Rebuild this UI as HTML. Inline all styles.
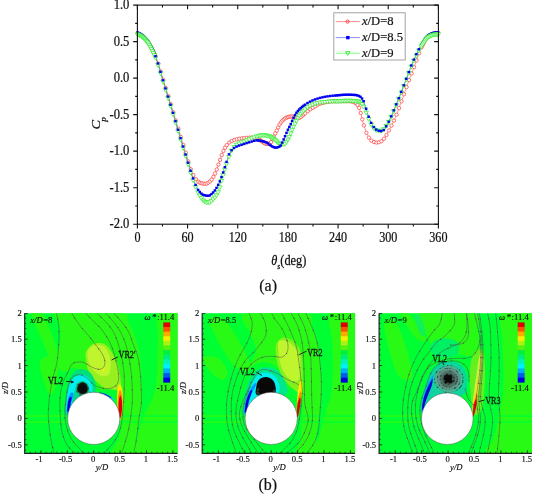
<!DOCTYPE html>
<html><head><meta charset="utf-8"><style>
html,body{margin:0;padding:0;background:#fff;}
svg{display:block;}
</style></head><body>
<div style="will-change:transform;width:534px;height:494px;filter:blur(0.3px);">
<svg width="534" height="494" viewBox="0 0 534 494">
<defs>
<radialGradient id="vg"><stop offset="0" stop-color="#101814"/><stop offset="0.3" stop-color="#3a544c"/><stop offset="0.65" stop-color="#668c80" stop-opacity="0.95"/><stop offset="0.9" stop-color="#6aa898" stop-opacity="0.6"/><stop offset="1" stop-color="#40b090" stop-opacity="0"/></radialGradient>
<radialGradient id="vb"><stop offset="0" stop-color="#000"/><stop offset="0.5" stop-color="#151515"/><stop offset="0.75" stop-color="#3a4a40" stop-opacity="0.8"/><stop offset="1" stop-color="#4a8a70" stop-opacity="0"/></radialGradient>
<radialGradient id="vk"><stop offset="0" stop-color="#000"/><stop offset="0.6" stop-color="#111"/><stop offset="1" stop-color="#222" stop-opacity="0.3"/></radialGradient>
</defs>
<rect width="534" height="494" fill="#fff"/>
<g id="curves">
<path d="M138.65 33.8 L139.66 34.31 L140.66 34.91 L141.66 35.57 L142.67 36.3 L143.67 37.14 L144.67 38.1 L145.68 39.17 L146.68 40.33 L147.68 41.59 L148.69 42.99 L149.69 44.67 L150.69 46.52 L151.7 48.43 L152.7 50.3 L153.7 52.2 L154.71 54.23 L155.71 56.51 L158.22 63.62 L160.73 71.5 L163.24 79.77 L165.74 87.92 L168.25 96.07 L170.76 104.22 L173.27 112.37 L175.78 120.53 L178.29 128.68 L180.79 136.86 L183.3 144.96 L185.81 152.76 L188.32 161.54 L190.83 169.33 L193.34 175.13 L195.84 179.2 L198.35 181.7 L200.02 182.84 L201.7 183.35 L203.37 183.64 L205.04 183.79 L206.71 183.57 L208.39 182.68 L210.06 181.45 L211.73 179.56 L213.4 176.8 L215.07 173.55 L216.75 169.48 L218.42 164.59 L220.09 159.83 L221.76 154.99 L223.44 150.9 L225.11 147.66 L226.78 145.14 L229.29 142.56 L231.8 140.95 L234.31 139.94 L236.81 139.25 L239.32 138.74 L241.83 138.34 L244.34 138.06 L246.85 137.82 L249.36 137.65 L251.86 137.62 L254.37 137.97 L256.88 138.61 L258.3 139.14 L259.72 139.96 L261.14 140.9 L262.57 141.8 L263.99 142.89 L265.41 143.7 L266.83 143.8 L268.25 143.8 L269.67 143.78 L271.09 142.09 L272.52 139.07 L273.94 136.31 L275.36 133.42 L276.78 130.51 L278.2 127.39 L279.62 124.5 L281.04 122.38 L282.47 120.64 L283.89 119.22 L285.31 118.24 L286.73 117.6 L288.15 117.03 L289.57 116.62 L290.99 116.41 L292.41 116.59 L293.84 117.19 L295.26 117.63 L296.68 117.85 L298.1 117.98 L299.52 117.83 L300.94 116.93 L302.36 115.65 L303.79 114.46 L305.21 113.33 L307.72 111.22 L310.22 109.35 L312.73 107.84 L315.24 106.34 L317.75 104.66 L320.26 103.69 L322.77 102.91 L325.27 102.31 L327.78 101.9 L330.29 101.6 L332.8 101.33 L335.31 101.16 L336.9 101.1 L338.48 101.1 L340.07 101.1 L341.66 101.1 L343.25 101.1 L344.84 101.1 L346.43 101.1 L348.02 101.1 L349.6 101.12 L351.19 101.33 L352.78 101.74 L354.37 102.31 L355.96 103.12 L357.55 104.98 L359.14 107.88 L360.73 113.04 L362.31 119.36 L363.9 125.41 L366.41 132.78 L368.92 137.61 L371.43 140.65 L373.94 142.02 L376.44 142.6 L378.95 142.19 L381.46 141.22 L383.97 138.7 L386.48 135.03 L388.99 130.47 L391.49 125.65 L394 120.59 L396.51 114.71 L399.02 108.15 L401.53 101.28 L404.04 94.33 L406.54 87.11 L409.05 80.09 L411.56 73.54 L414.07 67.13 L416.58 60.41 L419.09 53.18 L421.59 47.27 L422.6 45.21 L423.6 43.2 L424.6 41.31 L425.61 39.59 L426.61 38.1 L427.61 36.9 L428.62 36.05 L429.62 35.44 L430.62 34.88 L431.63 34.39 L432.63 33.98 L433.63 33.67 L434.64 33.46 L435.64 33.38 L436.64 33.34 L437.65 33.31" fill="none" stroke="#ff5050" stroke-width="0.6"/>
<circle cx="138.65" cy="33.8" r="1.7" fill="#fff" stroke="#ff3a3a" stroke-width="0.7"/>
<circle cx="139.66" cy="34.31" r="1.7" fill="#fff" stroke="#ff3a3a" stroke-width="0.7"/>
<circle cx="140.66" cy="34.91" r="1.7" fill="#fff" stroke="#ff3a3a" stroke-width="0.7"/>
<circle cx="141.66" cy="35.57" r="1.7" fill="#fff" stroke="#ff3a3a" stroke-width="0.7"/>
<circle cx="142.67" cy="36.3" r="1.7" fill="#fff" stroke="#ff3a3a" stroke-width="0.7"/>
<circle cx="143.67" cy="37.14" r="1.7" fill="#fff" stroke="#ff3a3a" stroke-width="0.7"/>
<circle cx="144.67" cy="38.1" r="1.7" fill="#fff" stroke="#ff3a3a" stroke-width="0.7"/>
<circle cx="145.68" cy="39.17" r="1.7" fill="#fff" stroke="#ff3a3a" stroke-width="0.7"/>
<circle cx="146.68" cy="40.33" r="1.7" fill="#fff" stroke="#ff3a3a" stroke-width="0.7"/>
<circle cx="147.68" cy="41.59" r="1.7" fill="#fff" stroke="#ff3a3a" stroke-width="0.7"/>
<circle cx="148.69" cy="42.99" r="1.7" fill="#fff" stroke="#ff3a3a" stroke-width="0.7"/>
<circle cx="149.69" cy="44.67" r="1.7" fill="#fff" stroke="#ff3a3a" stroke-width="0.7"/>
<circle cx="150.69" cy="46.52" r="1.7" fill="#fff" stroke="#ff3a3a" stroke-width="0.7"/>
<circle cx="151.7" cy="48.43" r="1.7" fill="#fff" stroke="#ff3a3a" stroke-width="0.7"/>
<circle cx="152.7" cy="50.3" r="1.7" fill="#fff" stroke="#ff3a3a" stroke-width="0.7"/>
<circle cx="153.7" cy="52.2" r="1.7" fill="#fff" stroke="#ff3a3a" stroke-width="0.7"/>
<circle cx="154.71" cy="54.23" r="1.7" fill="#fff" stroke="#ff3a3a" stroke-width="0.7"/>
<circle cx="155.71" cy="56.51" r="1.7" fill="#fff" stroke="#ff3a3a" stroke-width="0.7"/>
<circle cx="158.22" cy="63.62" r="1.7" fill="#fff" stroke="#ff3a3a" stroke-width="0.7"/>
<circle cx="160.73" cy="71.5" r="1.7" fill="#fff" stroke="#ff3a3a" stroke-width="0.7"/>
<circle cx="163.24" cy="79.77" r="1.7" fill="#fff" stroke="#ff3a3a" stroke-width="0.7"/>
<circle cx="165.74" cy="87.92" r="1.7" fill="#fff" stroke="#ff3a3a" stroke-width="0.7"/>
<circle cx="168.25" cy="96.07" r="1.7" fill="#fff" stroke="#ff3a3a" stroke-width="0.7"/>
<circle cx="170.76" cy="104.22" r="1.7" fill="#fff" stroke="#ff3a3a" stroke-width="0.7"/>
<circle cx="173.27" cy="112.37" r="1.7" fill="#fff" stroke="#ff3a3a" stroke-width="0.7"/>
<circle cx="175.78" cy="120.53" r="1.7" fill="#fff" stroke="#ff3a3a" stroke-width="0.7"/>
<circle cx="178.29" cy="128.68" r="1.7" fill="#fff" stroke="#ff3a3a" stroke-width="0.7"/>
<circle cx="180.79" cy="136.86" r="1.7" fill="#fff" stroke="#ff3a3a" stroke-width="0.7"/>
<circle cx="183.3" cy="144.96" r="1.7" fill="#fff" stroke="#ff3a3a" stroke-width="0.7"/>
<circle cx="185.81" cy="152.76" r="1.7" fill="#fff" stroke="#ff3a3a" stroke-width="0.7"/>
<circle cx="188.32" cy="161.54" r="1.7" fill="#fff" stroke="#ff3a3a" stroke-width="0.7"/>
<circle cx="190.83" cy="169.33" r="1.7" fill="#fff" stroke="#ff3a3a" stroke-width="0.7"/>
<circle cx="193.34" cy="175.13" r="1.7" fill="#fff" stroke="#ff3a3a" stroke-width="0.7"/>
<circle cx="195.84" cy="179.2" r="1.7" fill="#fff" stroke="#ff3a3a" stroke-width="0.7"/>
<circle cx="198.35" cy="181.7" r="1.7" fill="#fff" stroke="#ff3a3a" stroke-width="0.7"/>
<circle cx="200.02" cy="182.84" r="1.7" fill="#fff" stroke="#ff3a3a" stroke-width="0.7"/>
<circle cx="201.7" cy="183.35" r="1.7" fill="#fff" stroke="#ff3a3a" stroke-width="0.7"/>
<circle cx="203.37" cy="183.64" r="1.7" fill="#fff" stroke="#ff3a3a" stroke-width="0.7"/>
<circle cx="205.04" cy="183.79" r="1.7" fill="#fff" stroke="#ff3a3a" stroke-width="0.7"/>
<circle cx="206.71" cy="183.57" r="1.7" fill="#fff" stroke="#ff3a3a" stroke-width="0.7"/>
<circle cx="208.39" cy="182.68" r="1.7" fill="#fff" stroke="#ff3a3a" stroke-width="0.7"/>
<circle cx="210.06" cy="181.45" r="1.7" fill="#fff" stroke="#ff3a3a" stroke-width="0.7"/>
<circle cx="211.73" cy="179.56" r="1.7" fill="#fff" stroke="#ff3a3a" stroke-width="0.7"/>
<circle cx="213.4" cy="176.8" r="1.7" fill="#fff" stroke="#ff3a3a" stroke-width="0.7"/>
<circle cx="215.07" cy="173.55" r="1.7" fill="#fff" stroke="#ff3a3a" stroke-width="0.7"/>
<circle cx="216.75" cy="169.48" r="1.7" fill="#fff" stroke="#ff3a3a" stroke-width="0.7"/>
<circle cx="218.42" cy="164.59" r="1.7" fill="#fff" stroke="#ff3a3a" stroke-width="0.7"/>
<circle cx="220.09" cy="159.83" r="1.7" fill="#fff" stroke="#ff3a3a" stroke-width="0.7"/>
<circle cx="221.76" cy="154.99" r="1.7" fill="#fff" stroke="#ff3a3a" stroke-width="0.7"/>
<circle cx="223.44" cy="150.9" r="1.7" fill="#fff" stroke="#ff3a3a" stroke-width="0.7"/>
<circle cx="225.11" cy="147.66" r="1.7" fill="#fff" stroke="#ff3a3a" stroke-width="0.7"/>
<circle cx="226.78" cy="145.14" r="1.7" fill="#fff" stroke="#ff3a3a" stroke-width="0.7"/>
<circle cx="229.29" cy="142.56" r="1.7" fill="#fff" stroke="#ff3a3a" stroke-width="0.7"/>
<circle cx="231.8" cy="140.95" r="1.7" fill="#fff" stroke="#ff3a3a" stroke-width="0.7"/>
<circle cx="234.31" cy="139.94" r="1.7" fill="#fff" stroke="#ff3a3a" stroke-width="0.7"/>
<circle cx="236.81" cy="139.25" r="1.7" fill="#fff" stroke="#ff3a3a" stroke-width="0.7"/>
<circle cx="239.32" cy="138.74" r="1.7" fill="#fff" stroke="#ff3a3a" stroke-width="0.7"/>
<circle cx="241.83" cy="138.34" r="1.7" fill="#fff" stroke="#ff3a3a" stroke-width="0.7"/>
<circle cx="244.34" cy="138.06" r="1.7" fill="#fff" stroke="#ff3a3a" stroke-width="0.7"/>
<circle cx="246.85" cy="137.82" r="1.7" fill="#fff" stroke="#ff3a3a" stroke-width="0.7"/>
<circle cx="249.36" cy="137.65" r="1.7" fill="#fff" stroke="#ff3a3a" stroke-width="0.7"/>
<circle cx="251.86" cy="137.62" r="1.7" fill="#fff" stroke="#ff3a3a" stroke-width="0.7"/>
<circle cx="254.37" cy="137.97" r="1.7" fill="#fff" stroke="#ff3a3a" stroke-width="0.7"/>
<circle cx="256.88" cy="138.61" r="1.7" fill="#fff" stroke="#ff3a3a" stroke-width="0.7"/>
<circle cx="258.3" cy="139.14" r="1.7" fill="#fff" stroke="#ff3a3a" stroke-width="0.7"/>
<circle cx="259.72" cy="139.96" r="1.7" fill="#fff" stroke="#ff3a3a" stroke-width="0.7"/>
<circle cx="261.14" cy="140.9" r="1.7" fill="#fff" stroke="#ff3a3a" stroke-width="0.7"/>
<circle cx="262.57" cy="141.8" r="1.7" fill="#fff" stroke="#ff3a3a" stroke-width="0.7"/>
<circle cx="263.99" cy="142.89" r="1.7" fill="#fff" stroke="#ff3a3a" stroke-width="0.7"/>
<circle cx="265.41" cy="143.7" r="1.7" fill="#fff" stroke="#ff3a3a" stroke-width="0.7"/>
<circle cx="266.83" cy="143.8" r="1.7" fill="#fff" stroke="#ff3a3a" stroke-width="0.7"/>
<circle cx="268.25" cy="143.8" r="1.7" fill="#fff" stroke="#ff3a3a" stroke-width="0.7"/>
<circle cx="269.67" cy="143.78" r="1.7" fill="#fff" stroke="#ff3a3a" stroke-width="0.7"/>
<circle cx="271.09" cy="142.09" r="1.7" fill="#fff" stroke="#ff3a3a" stroke-width="0.7"/>
<circle cx="272.52" cy="139.07" r="1.7" fill="#fff" stroke="#ff3a3a" stroke-width="0.7"/>
<circle cx="273.94" cy="136.31" r="1.7" fill="#fff" stroke="#ff3a3a" stroke-width="0.7"/>
<circle cx="275.36" cy="133.42" r="1.7" fill="#fff" stroke="#ff3a3a" stroke-width="0.7"/>
<circle cx="276.78" cy="130.51" r="1.7" fill="#fff" stroke="#ff3a3a" stroke-width="0.7"/>
<circle cx="278.2" cy="127.39" r="1.7" fill="#fff" stroke="#ff3a3a" stroke-width="0.7"/>
<circle cx="279.62" cy="124.5" r="1.7" fill="#fff" stroke="#ff3a3a" stroke-width="0.7"/>
<circle cx="281.04" cy="122.38" r="1.7" fill="#fff" stroke="#ff3a3a" stroke-width="0.7"/>
<circle cx="282.47" cy="120.64" r="1.7" fill="#fff" stroke="#ff3a3a" stroke-width="0.7"/>
<circle cx="283.89" cy="119.22" r="1.7" fill="#fff" stroke="#ff3a3a" stroke-width="0.7"/>
<circle cx="285.31" cy="118.24" r="1.7" fill="#fff" stroke="#ff3a3a" stroke-width="0.7"/>
<circle cx="286.73" cy="117.6" r="1.7" fill="#fff" stroke="#ff3a3a" stroke-width="0.7"/>
<circle cx="288.15" cy="117.03" r="1.7" fill="#fff" stroke="#ff3a3a" stroke-width="0.7"/>
<circle cx="289.57" cy="116.62" r="1.7" fill="#fff" stroke="#ff3a3a" stroke-width="0.7"/>
<circle cx="290.99" cy="116.41" r="1.7" fill="#fff" stroke="#ff3a3a" stroke-width="0.7"/>
<circle cx="292.41" cy="116.59" r="1.7" fill="#fff" stroke="#ff3a3a" stroke-width="0.7"/>
<circle cx="293.84" cy="117.19" r="1.7" fill="#fff" stroke="#ff3a3a" stroke-width="0.7"/>
<circle cx="295.26" cy="117.63" r="1.7" fill="#fff" stroke="#ff3a3a" stroke-width="0.7"/>
<circle cx="296.68" cy="117.85" r="1.7" fill="#fff" stroke="#ff3a3a" stroke-width="0.7"/>
<circle cx="298.1" cy="117.98" r="1.7" fill="#fff" stroke="#ff3a3a" stroke-width="0.7"/>
<circle cx="299.52" cy="117.83" r="1.7" fill="#fff" stroke="#ff3a3a" stroke-width="0.7"/>
<circle cx="300.94" cy="116.93" r="1.7" fill="#fff" stroke="#ff3a3a" stroke-width="0.7"/>
<circle cx="302.36" cy="115.65" r="1.7" fill="#fff" stroke="#ff3a3a" stroke-width="0.7"/>
<circle cx="303.79" cy="114.46" r="1.7" fill="#fff" stroke="#ff3a3a" stroke-width="0.7"/>
<circle cx="305.21" cy="113.33" r="1.7" fill="#fff" stroke="#ff3a3a" stroke-width="0.7"/>
<circle cx="307.72" cy="111.22" r="1.7" fill="#fff" stroke="#ff3a3a" stroke-width="0.7"/>
<circle cx="310.22" cy="109.35" r="1.7" fill="#fff" stroke="#ff3a3a" stroke-width="0.7"/>
<circle cx="312.73" cy="107.84" r="1.7" fill="#fff" stroke="#ff3a3a" stroke-width="0.7"/>
<circle cx="315.24" cy="106.34" r="1.7" fill="#fff" stroke="#ff3a3a" stroke-width="0.7"/>
<circle cx="317.75" cy="104.66" r="1.7" fill="#fff" stroke="#ff3a3a" stroke-width="0.7"/>
<circle cx="320.26" cy="103.69" r="1.7" fill="#fff" stroke="#ff3a3a" stroke-width="0.7"/>
<circle cx="322.77" cy="102.91" r="1.7" fill="#fff" stroke="#ff3a3a" stroke-width="0.7"/>
<circle cx="325.27" cy="102.31" r="1.7" fill="#fff" stroke="#ff3a3a" stroke-width="0.7"/>
<circle cx="327.78" cy="101.9" r="1.7" fill="#fff" stroke="#ff3a3a" stroke-width="0.7"/>
<circle cx="330.29" cy="101.6" r="1.7" fill="#fff" stroke="#ff3a3a" stroke-width="0.7"/>
<circle cx="332.8" cy="101.33" r="1.7" fill="#fff" stroke="#ff3a3a" stroke-width="0.7"/>
<circle cx="335.31" cy="101.16" r="1.7" fill="#fff" stroke="#ff3a3a" stroke-width="0.7"/>
<circle cx="336.9" cy="101.1" r="1.7" fill="#fff" stroke="#ff3a3a" stroke-width="0.7"/>
<circle cx="338.48" cy="101.1" r="1.7" fill="#fff" stroke="#ff3a3a" stroke-width="0.7"/>
<circle cx="340.07" cy="101.1" r="1.7" fill="#fff" stroke="#ff3a3a" stroke-width="0.7"/>
<circle cx="341.66" cy="101.1" r="1.7" fill="#fff" stroke="#ff3a3a" stroke-width="0.7"/>
<circle cx="343.25" cy="101.1" r="1.7" fill="#fff" stroke="#ff3a3a" stroke-width="0.7"/>
<circle cx="344.84" cy="101.1" r="1.7" fill="#fff" stroke="#ff3a3a" stroke-width="0.7"/>
<circle cx="346.43" cy="101.1" r="1.7" fill="#fff" stroke="#ff3a3a" stroke-width="0.7"/>
<circle cx="348.02" cy="101.1" r="1.7" fill="#fff" stroke="#ff3a3a" stroke-width="0.7"/>
<circle cx="349.6" cy="101.12" r="1.7" fill="#fff" stroke="#ff3a3a" stroke-width="0.7"/>
<circle cx="351.19" cy="101.33" r="1.7" fill="#fff" stroke="#ff3a3a" stroke-width="0.7"/>
<circle cx="352.78" cy="101.74" r="1.7" fill="#fff" stroke="#ff3a3a" stroke-width="0.7"/>
<circle cx="354.37" cy="102.31" r="1.7" fill="#fff" stroke="#ff3a3a" stroke-width="0.7"/>
<circle cx="355.96" cy="103.12" r="1.7" fill="#fff" stroke="#ff3a3a" stroke-width="0.7"/>
<circle cx="357.55" cy="104.98" r="1.7" fill="#fff" stroke="#ff3a3a" stroke-width="0.7"/>
<circle cx="359.14" cy="107.88" r="1.7" fill="#fff" stroke="#ff3a3a" stroke-width="0.7"/>
<circle cx="360.73" cy="113.04" r="1.7" fill="#fff" stroke="#ff3a3a" stroke-width="0.7"/>
<circle cx="362.31" cy="119.36" r="1.7" fill="#fff" stroke="#ff3a3a" stroke-width="0.7"/>
<circle cx="363.9" cy="125.41" r="1.7" fill="#fff" stroke="#ff3a3a" stroke-width="0.7"/>
<circle cx="366.41" cy="132.78" r="1.7" fill="#fff" stroke="#ff3a3a" stroke-width="0.7"/>
<circle cx="368.92" cy="137.61" r="1.7" fill="#fff" stroke="#ff3a3a" stroke-width="0.7"/>
<circle cx="371.43" cy="140.65" r="1.7" fill="#fff" stroke="#ff3a3a" stroke-width="0.7"/>
<circle cx="373.94" cy="142.02" r="1.7" fill="#fff" stroke="#ff3a3a" stroke-width="0.7"/>
<circle cx="376.44" cy="142.6" r="1.7" fill="#fff" stroke="#ff3a3a" stroke-width="0.7"/>
<circle cx="378.95" cy="142.19" r="1.7" fill="#fff" stroke="#ff3a3a" stroke-width="0.7"/>
<circle cx="381.46" cy="141.22" r="1.7" fill="#fff" stroke="#ff3a3a" stroke-width="0.7"/>
<circle cx="383.97" cy="138.7" r="1.7" fill="#fff" stroke="#ff3a3a" stroke-width="0.7"/>
<circle cx="386.48" cy="135.03" r="1.7" fill="#fff" stroke="#ff3a3a" stroke-width="0.7"/>
<circle cx="388.99" cy="130.47" r="1.7" fill="#fff" stroke="#ff3a3a" stroke-width="0.7"/>
<circle cx="391.49" cy="125.65" r="1.7" fill="#fff" stroke="#ff3a3a" stroke-width="0.7"/>
<circle cx="394" cy="120.59" r="1.7" fill="#fff" stroke="#ff3a3a" stroke-width="0.7"/>
<circle cx="396.51" cy="114.71" r="1.7" fill="#fff" stroke="#ff3a3a" stroke-width="0.7"/>
<circle cx="399.02" cy="108.15" r="1.7" fill="#fff" stroke="#ff3a3a" stroke-width="0.7"/>
<circle cx="401.53" cy="101.28" r="1.7" fill="#fff" stroke="#ff3a3a" stroke-width="0.7"/>
<circle cx="404.04" cy="94.33" r="1.7" fill="#fff" stroke="#ff3a3a" stroke-width="0.7"/>
<circle cx="406.54" cy="87.11" r="1.7" fill="#fff" stroke="#ff3a3a" stroke-width="0.7"/>
<circle cx="409.05" cy="80.09" r="1.7" fill="#fff" stroke="#ff3a3a" stroke-width="0.7"/>
<circle cx="411.56" cy="73.54" r="1.7" fill="#fff" stroke="#ff3a3a" stroke-width="0.7"/>
<circle cx="414.07" cy="67.13" r="1.7" fill="#fff" stroke="#ff3a3a" stroke-width="0.7"/>
<circle cx="416.58" cy="60.41" r="1.7" fill="#fff" stroke="#ff3a3a" stroke-width="0.7"/>
<circle cx="419.09" cy="53.18" r="1.7" fill="#fff" stroke="#ff3a3a" stroke-width="0.7"/>
<circle cx="421.59" cy="47.27" r="1.7" fill="#fff" stroke="#ff3a3a" stroke-width="0.7"/>
<circle cx="422.6" cy="45.21" r="1.7" fill="#fff" stroke="#ff3a3a" stroke-width="0.7"/>
<circle cx="423.6" cy="43.2" r="1.7" fill="#fff" stroke="#ff3a3a" stroke-width="0.7"/>
<circle cx="424.6" cy="41.31" r="1.7" fill="#fff" stroke="#ff3a3a" stroke-width="0.7"/>
<circle cx="425.61" cy="39.59" r="1.7" fill="#fff" stroke="#ff3a3a" stroke-width="0.7"/>
<circle cx="426.61" cy="38.1" r="1.7" fill="#fff" stroke="#ff3a3a" stroke-width="0.7"/>
<circle cx="427.61" cy="36.9" r="1.7" fill="#fff" stroke="#ff3a3a" stroke-width="0.7"/>
<circle cx="428.62" cy="36.05" r="1.7" fill="#fff" stroke="#ff3a3a" stroke-width="0.7"/>
<circle cx="429.62" cy="35.44" r="1.7" fill="#fff" stroke="#ff3a3a" stroke-width="0.7"/>
<circle cx="430.62" cy="34.88" r="1.7" fill="#fff" stroke="#ff3a3a" stroke-width="0.7"/>
<circle cx="431.63" cy="34.39" r="1.7" fill="#fff" stroke="#ff3a3a" stroke-width="0.7"/>
<circle cx="432.63" cy="33.98" r="1.7" fill="#fff" stroke="#ff3a3a" stroke-width="0.7"/>
<circle cx="433.63" cy="33.67" r="1.7" fill="#fff" stroke="#ff3a3a" stroke-width="0.7"/>
<circle cx="434.64" cy="33.46" r="1.7" fill="#fff" stroke="#ff3a3a" stroke-width="0.7"/>
<circle cx="435.64" cy="33.38" r="1.7" fill="#fff" stroke="#ff3a3a" stroke-width="0.7"/>
<circle cx="436.64" cy="33.34" r="1.7" fill="#fff" stroke="#ff3a3a" stroke-width="0.7"/>
<circle cx="437.65" cy="33.31" r="1.7" fill="#fff" stroke="#ff3a3a" stroke-width="0.7"/>
<path d="M137.4 33.3 L138.4 33.69 L139.41 34.18 L140.41 34.75 L141.41 35.4 L142.42 36.1 L143.42 36.92 L144.42 37.85 L145.43 38.89 L146.43 40.03 L147.43 41.26 L148.44 42.61 L149.44 44.2 L150.44 46 L151.45 47.92 L152.45 49.89 L153.45 51.96 L154.46 54.2 L155.46 56.66 L157.97 63.9 L160.48 72.29 L162.99 80.74 L165.49 88.86 L168 97.01 L170.51 105.15 L173.02 113.28 L175.53 121.62 L178.03 130.12 L180.54 138.63 L183.05 146.94 L185.56 154.99 L188.07 163.09 L190.58 171.16 L193.09 178.83 L195.59 185.34 L198.1 190.28 L199.77 192.36 L201.45 194 L203.12 195.16 L204.79 195.7 L206.46 196.04 L208.13 196.2 L209.81 195.77 L211.48 194.46 L213.15 192.85 L214.82 190.84 L216.5 188.24 L218.17 185.23 L219.84 181.72 L221.51 177.46 L223.19 172.84 L224.86 167.62 L226.53 162.31 L229.04 154.72 L231.55 150.67 L234.05 148.36 L236.56 146.94 L239.07 145.97 L241.58 145.17 L244.09 144.33 L246.6 143.5 L249.1 142.73 L251.61 141.97 L254.12 141.18 L256.63 140.72 L258.05 140.74 L259.47 140.95 L260.89 141.27 L262.31 141.6 L263.74 141.95 L265.16 142.37 L266.58 142.9 L268 143.79 L269.42 145.02 L270.84 146 L272.26 146.83 L273.69 147.55 L275.11 147.97 L276.53 147.93 L277.95 147.61 L279.37 147.05 L280.79 145.86 L282.21 143 L283.64 139.82 L285.06 136.59 L286.48 133.22 L287.9 130.13 L289.32 127.3 L290.74 124.42 L292.16 121.24 L293.59 118.12 L295.01 115.45 L296.43 113.14 L297.85 111.36 L299.27 109.83 L300.69 108.48 L302.11 107.27 L303.54 106.15 L304.96 105.09 L307.46 103.41 L309.97 102.01 L312.48 100.84 L314.99 99.82 L317.5 98.98 L320.01 98.28 L322.51 97.67 L325.02 97.16 L327.53 96.74 L330.04 96.41 L332.55 96.13 L335.06 95.9 L336.65 95.77 L338.23 95.64 L339.82 95.51 L341.41 95.38 L343 95.26 L344.59 95.17 L346.18 95.11 L347.77 95.1 L349.35 95.12 L350.94 95.17 L352.53 95.23 L354.12 95.32 L355.71 95.44 L357.3 95.77 L358.89 96.35 L360.47 97.17 L362.06 98.92 L363.65 101.59 L366.16 109.11 L368.67 117.11 L371.18 123.25 L373.68 127.43 L376.19 130.01 L378.7 131.14 L381.21 131.47 L383.72 130.38 L386.23 126.67 L388.73 122.11 L391.24 116.75 L393.75 110.79 L396.26 104.78 L398.77 98.63 L401.28 92.29 L403.78 85.77 L406.29 79.22 L408.8 72.53 L411.31 65.92 L413.82 60.03 L416.33 54.62 L418.83 49.69 L421.34 45.42 L422.35 43.79 L423.35 42.17 L424.35 40.61 L425.36 39.17 L426.36 37.89 L427.36 36.82 L428.37 36 L429.37 35.43 L430.37 34.91 L431.38 34.44 L432.38 34.04 L433.38 33.72 L434.39 33.5 L435.39 33.4 L436.39 33.35 L437.4 33.31 L438.4 33.3" fill="none" stroke="#2020ff" stroke-width="0.6"/>
<rect x="136.1" y="31.3" width="2.6" height="2.6" fill="#0000f0"/>
<rect x="137.1" y="31.69" width="2.6" height="2.6" fill="#0000f0"/>
<rect x="138.11" y="32.18" width="2.6" height="2.6" fill="#0000f0"/>
<rect x="139.11" y="32.75" width="2.6" height="2.6" fill="#0000f0"/>
<rect x="140.11" y="33.4" width="2.6" height="2.6" fill="#0000f0"/>
<rect x="141.12" y="34.1" width="2.6" height="2.6" fill="#0000f0"/>
<rect x="142.12" y="34.92" width="2.6" height="2.6" fill="#0000f0"/>
<rect x="143.12" y="35.85" width="2.6" height="2.6" fill="#0000f0"/>
<rect x="144.13" y="36.89" width="2.6" height="2.6" fill="#0000f0"/>
<rect x="145.13" y="38.03" width="2.6" height="2.6" fill="#0000f0"/>
<rect x="146.13" y="39.26" width="2.6" height="2.6" fill="#0000f0"/>
<rect x="147.14" y="40.61" width="2.6" height="2.6" fill="#0000f0"/>
<rect x="148.14" y="42.2" width="2.6" height="2.6" fill="#0000f0"/>
<rect x="149.14" y="44" width="2.6" height="2.6" fill="#0000f0"/>
<rect x="150.15" y="45.92" width="2.6" height="2.6" fill="#0000f0"/>
<rect x="151.15" y="47.89" width="2.6" height="2.6" fill="#0000f0"/>
<rect x="152.15" y="49.96" width="2.6" height="2.6" fill="#0000f0"/>
<rect x="153.16" y="52.2" width="2.6" height="2.6" fill="#0000f0"/>
<rect x="420.04" y="43.42" width="2.6" height="2.6" fill="#0000f0"/>
<rect x="421.05" y="41.79" width="2.6" height="2.6" fill="#0000f0"/>
<rect x="422.05" y="40.17" width="2.6" height="2.6" fill="#0000f0"/>
<rect x="423.05" y="38.61" width="2.6" height="2.6" fill="#0000f0"/>
<rect x="424.06" y="37.17" width="2.6" height="2.6" fill="#0000f0"/>
<rect x="425.06" y="35.89" width="2.6" height="2.6" fill="#0000f0"/>
<rect x="426.06" y="34.82" width="2.6" height="2.6" fill="#0000f0"/>
<rect x="427.07" y="34" width="2.6" height="2.6" fill="#0000f0"/>
<rect x="428.07" y="33.43" width="2.6" height="2.6" fill="#0000f0"/>
<rect x="429.07" y="32.91" width="2.6" height="2.6" fill="#0000f0"/>
<rect x="430.08" y="32.44" width="2.6" height="2.6" fill="#0000f0"/>
<rect x="431.08" y="32.04" width="2.6" height="2.6" fill="#0000f0"/>
<rect x="432.08" y="31.72" width="2.6" height="2.6" fill="#0000f0"/>
<rect x="433.09" y="31.5" width="2.6" height="2.6" fill="#0000f0"/>
<rect x="434.09" y="31.4" width="2.6" height="2.6" fill="#0000f0"/>
<rect x="435.09" y="31.35" width="2.6" height="2.6" fill="#0000f0"/>
<rect x="436.1" y="31.31" width="2.6" height="2.6" fill="#0000f0"/>
<rect x="437.1" y="31.3" width="2.6" height="2.6" fill="#0000f0"/>
<path d="M137.4 33.3 L138.4 33.69 L139.41 34.18 L140.41 34.75 L141.41 35.4 L142.42 36.1 L143.42 36.92 L144.42 37.85 L145.43 38.89 L146.43 40.03 L147.43 41.26 L148.44 42.61 L149.44 44.2 L150.44 46 L151.45 47.92 L152.45 49.89 L153.45 51.96 L154.46 54.2 L155.46 56.66 L157.97 63.9 L160.48 72.29 L162.99 80.74 L165.49 88.86 L168 97.01 L170.51 105.15 L173.02 113.28 L175.53 121.62 L178.03 130.12 L180.54 138.63 L183.05 146.93 L185.56 154.96 L188.07 163.24 L190.58 171.62 L193.09 179.23 L195.59 186.04 L198.1 191.59 L199.77 194.71 L201.45 197.23 L203.12 199.4 L204.79 200.63 L206.46 201.27 L208.13 201.59 L209.81 201.22 L211.48 200.01 L213.15 198.37 L214.82 196.6 L216.5 194.29 L218.17 191.21 L219.84 186.33 L221.51 179.96 L223.19 174.19 L224.86 168.51 L226.53 163.03 L229.04 155.77 L231.55 149.63 L234.05 146.04 L236.56 143.82 L239.07 142.45 L241.58 141.42 L244.09 140.42 L246.6 139.35 L249.1 138.32 L251.61 137.34 L254.12 136.39 L256.63 135.51 L258.05 135.09 L259.47 134.71 L260.89 134.36 L262.31 134.2 L263.74 134.25 L265.16 134.37 L266.58 134.56 L268 134.89 L269.42 135.34 L270.84 135.97 L272.26 136.89 L273.69 137.94 L275.11 138.98 L276.53 140.25 L277.95 141.67 L279.37 142.77 L280.79 143.1 L282.21 143.1 L283.64 143.1 L285.06 142.75 L286.48 141.01 L287.9 138.56 L289.32 135.85 L290.74 132.3 L292.16 128.83 L293.59 125.72 L295.01 122.72 L296.43 119.79 L297.85 116.94 L299.27 114.67 L300.69 112.82 L302.11 111.21 L303.54 109.76 L304.96 108.39 L307.46 106.14 L309.97 104.51 L312.48 103.45 L314.99 102.62 L317.5 102.01 L320.01 101.58 L322.51 101.22 L325.02 100.94 L327.53 100.72 L330.04 100.55 L332.55 100.42 L335.06 100.31 L336.65 100.24 L338.23 100.16 L339.82 100.08 L341.41 99.99 L343 99.91 L344.59 99.85 L346.18 99.81 L347.77 99.8 L349.35 99.82 L350.94 99.86 L352.53 99.92 L354.12 100 L355.71 100.1 L357.3 100.23 L358.89 100.73 L360.47 101.66 L362.06 102.96 L363.65 105.79 L366.16 111.69 L368.67 118.04 L371.18 123.48 L373.68 127.14 L376.19 129.35 L378.7 129.75 L381.21 129.9 L383.72 128.16 L386.23 125 L388.73 120.86 L391.24 115.95 L393.75 110.22 L396.26 104.15 L398.77 97.85 L401.28 91.49 L403.78 84.99 L406.29 78.52 L408.8 71.96 L411.31 65.53 L413.82 59.78 L416.33 54.48 L418.83 49.64 L421.34 45.43 L422.35 43.8 L423.35 42.18 L424.35 40.63 L425.36 39.18 L426.36 37.9 L427.36 36.82 L428.37 36 L429.37 35.43 L430.37 34.91 L431.38 34.44 L432.38 34.04 L433.38 33.72 L434.39 33.5 L435.39 33.4 L436.39 33.35 L437.4 33.31 L438.4 33.3" fill="none" stroke="#30ff30" stroke-width="0.6"/>
<path d="M135.1 32.8L139.7 32.8L137.4 36.6Z" fill="#fff" stroke="#2aee2a" stroke-width="0.7"/>
<path d="M136.1 33.19L140.7 33.19L138.4 36.99Z" fill="#fff" stroke="#2aee2a" stroke-width="0.7"/>
<path d="M137.11 33.68L141.71 33.68L139.41 37.48Z" fill="#fff" stroke="#2aee2a" stroke-width="0.7"/>
<path d="M138.11 34.25L142.71 34.25L140.41 38.05Z" fill="#fff" stroke="#2aee2a" stroke-width="0.7"/>
<path d="M139.11 34.9L143.71 34.9L141.41 38.7Z" fill="#fff" stroke="#2aee2a" stroke-width="0.7"/>
<path d="M140.12 35.6L144.72 35.6L142.42 39.4Z" fill="#fff" stroke="#2aee2a" stroke-width="0.7"/>
<path d="M141.12 36.42L145.72 36.42L143.42 40.22Z" fill="#fff" stroke="#2aee2a" stroke-width="0.7"/>
<path d="M142.12 37.35L146.72 37.35L144.42 41.15Z" fill="#fff" stroke="#2aee2a" stroke-width="0.7"/>
<path d="M143.13 38.39L147.73 38.39L145.43 42.19Z" fill="#fff" stroke="#2aee2a" stroke-width="0.7"/>
<path d="M144.13 39.53L148.73 39.53L146.43 43.33Z" fill="#fff" stroke="#2aee2a" stroke-width="0.7"/>
<path d="M145.13 40.76L149.73 40.76L147.43 44.56Z" fill="#fff" stroke="#2aee2a" stroke-width="0.7"/>
<path d="M146.14 42.11L150.74 42.11L148.44 45.91Z" fill="#fff" stroke="#2aee2a" stroke-width="0.7"/>
<path d="M147.14 43.7L151.74 43.7L149.44 47.5Z" fill="#fff" stroke="#2aee2a" stroke-width="0.7"/>
<path d="M148.14 45.5L152.74 45.5L150.44 49.3Z" fill="#fff" stroke="#2aee2a" stroke-width="0.7"/>
<path d="M149.15 47.42L153.75 47.42L151.45 51.22Z" fill="#fff" stroke="#2aee2a" stroke-width="0.7"/>
<path d="M150.15 49.39L154.75 49.39L152.45 53.19Z" fill="#fff" stroke="#2aee2a" stroke-width="0.7"/>
<path d="M151.15 51.46L155.75 51.46L153.45 55.26Z" fill="#fff" stroke="#2aee2a" stroke-width="0.7"/>
<path d="M152.16 53.7L156.76 53.7L154.46 57.5Z" fill="#fff" stroke="#2aee2a" stroke-width="0.7"/>
<path d="M153.16 56.16L157.76 56.16L155.46 59.96Z" fill="#fff" stroke="#2aee2a" stroke-width="0.7"/>
<path d="M155.67 63.4L160.27 63.4L157.97 67.2Z" fill="#fff" stroke="#2aee2a" stroke-width="0.7"/>
<path d="M158.18 71.79L162.78 71.79L160.48 75.59Z" fill="#fff" stroke="#2aee2a" stroke-width="0.7"/>
<path d="M160.69 80.24L165.29 80.24L162.99 84.04Z" fill="#fff" stroke="#2aee2a" stroke-width="0.7"/>
<path d="M163.19 88.36L167.79 88.36L165.49 92.16Z" fill="#fff" stroke="#2aee2a" stroke-width="0.7"/>
<path d="M165.7 96.51L170.3 96.51L168 100.31Z" fill="#fff" stroke="#2aee2a" stroke-width="0.7"/>
<path d="M168.21 104.65L172.81 104.65L170.51 108.45Z" fill="#fff" stroke="#2aee2a" stroke-width="0.7"/>
<path d="M170.72 112.78L175.32 112.78L173.02 116.58Z" fill="#fff" stroke="#2aee2a" stroke-width="0.7"/>
<path d="M173.23 121.12L177.83 121.12L175.53 124.92Z" fill="#fff" stroke="#2aee2a" stroke-width="0.7"/>
<path d="M175.73 129.62L180.34 129.62L178.03 133.42Z" fill="#fff" stroke="#2aee2a" stroke-width="0.7"/>
<path d="M178.24 138.13L182.84 138.13L180.54 141.93Z" fill="#fff" stroke="#2aee2a" stroke-width="0.7"/>
<path d="M180.75 146.43L185.35 146.43L183.05 150.23Z" fill="#fff" stroke="#2aee2a" stroke-width="0.7"/>
<path d="M183.26 154.46L187.86 154.46L185.56 158.26Z" fill="#fff" stroke="#2aee2a" stroke-width="0.7"/>
<path d="M185.77 162.74L190.37 162.74L188.07 166.54Z" fill="#fff" stroke="#2aee2a" stroke-width="0.7"/>
<path d="M188.28 171.12L192.88 171.12L190.58 174.92Z" fill="#fff" stroke="#2aee2a" stroke-width="0.7"/>
<path d="M190.78 178.73L195.39 178.73L193.09 182.53Z" fill="#fff" stroke="#2aee2a" stroke-width="0.7"/>
<path d="M193.29 185.54L197.89 185.54L195.59 189.34Z" fill="#fff" stroke="#2aee2a" stroke-width="0.7"/>
<path d="M195.8 191.09L200.4 191.09L198.1 194.89Z" fill="#fff" stroke="#2aee2a" stroke-width="0.7"/>
<path d="M197.47 194.21L202.07 194.21L199.77 198.01Z" fill="#fff" stroke="#2aee2a" stroke-width="0.7"/>
<path d="M199.15 196.73L203.75 196.73L201.45 200.53Z" fill="#fff" stroke="#2aee2a" stroke-width="0.7"/>
<path d="M200.82 198.9L205.42 198.9L203.12 202.7Z" fill="#fff" stroke="#2aee2a" stroke-width="0.7"/>
<path d="M202.49 200.13L207.09 200.13L204.79 203.93Z" fill="#fff" stroke="#2aee2a" stroke-width="0.7"/>
<path d="M204.16 200.77L208.76 200.77L206.46 204.57Z" fill="#fff" stroke="#2aee2a" stroke-width="0.7"/>
<path d="M205.83 201.09L210.44 201.09L208.13 204.89Z" fill="#fff" stroke="#2aee2a" stroke-width="0.7"/>
<path d="M207.51 200.72L212.11 200.72L209.81 204.52Z" fill="#fff" stroke="#2aee2a" stroke-width="0.7"/>
<path d="M209.18 199.51L213.78 199.51L211.48 203.31Z" fill="#fff" stroke="#2aee2a" stroke-width="0.7"/>
<path d="M210.85 197.87L215.45 197.87L213.15 201.67Z" fill="#fff" stroke="#2aee2a" stroke-width="0.7"/>
<path d="M212.52 196.1L217.12 196.1L214.82 199.9Z" fill="#fff" stroke="#2aee2a" stroke-width="0.7"/>
<path d="M214.2 193.79L218.8 193.79L216.5 197.59Z" fill="#fff" stroke="#2aee2a" stroke-width="0.7"/>
<path d="M215.87 190.71L220.47 190.71L218.17 194.51Z" fill="#fff" stroke="#2aee2a" stroke-width="0.7"/>
<path d="M217.54 185.83L222.14 185.83L219.84 189.63Z" fill="#fff" stroke="#2aee2a" stroke-width="0.7"/>
<path d="M219.21 179.46L223.81 179.46L221.51 183.26Z" fill="#fff" stroke="#2aee2a" stroke-width="0.7"/>
<path d="M220.88 173.69L225.49 173.69L223.19 177.49Z" fill="#fff" stroke="#2aee2a" stroke-width="0.7"/>
<path d="M222.56 168.01L227.16 168.01L224.86 171.81Z" fill="#fff" stroke="#2aee2a" stroke-width="0.7"/>
<path d="M224.23 162.53L228.83 162.53L226.53 166.33Z" fill="#fff" stroke="#2aee2a" stroke-width="0.7"/>
<path d="M226.74 155.27L231.34 155.27L229.04 159.07Z" fill="#fff" stroke="#2aee2a" stroke-width="0.7"/>
<path d="M229.25 149.13L233.85 149.13L231.55 152.93Z" fill="#fff" stroke="#2aee2a" stroke-width="0.7"/>
<path d="M231.75 145.54L236.35 145.54L234.05 149.34Z" fill="#fff" stroke="#2aee2a" stroke-width="0.7"/>
<path d="M234.26 143.32L238.86 143.32L236.56 147.12Z" fill="#fff" stroke="#2aee2a" stroke-width="0.7"/>
<path d="M236.77 141.95L241.37 141.95L239.07 145.75Z" fill="#fff" stroke="#2aee2a" stroke-width="0.7"/>
<path d="M239.28 140.92L243.88 140.92L241.58 144.72Z" fill="#fff" stroke="#2aee2a" stroke-width="0.7"/>
<path d="M241.79 139.92L246.39 139.92L244.09 143.72Z" fill="#fff" stroke="#2aee2a" stroke-width="0.7"/>
<path d="M244.3 138.85L248.9 138.85L246.6 142.65Z" fill="#fff" stroke="#2aee2a" stroke-width="0.7"/>
<path d="M246.8 137.82L251.4 137.82L249.1 141.62Z" fill="#fff" stroke="#2aee2a" stroke-width="0.7"/>
<path d="M249.31 136.84L253.91 136.84L251.61 140.64Z" fill="#fff" stroke="#2aee2a" stroke-width="0.7"/>
<path d="M251.82 135.89L256.42 135.89L254.12 139.69Z" fill="#fff" stroke="#2aee2a" stroke-width="0.7"/>
<path d="M254.33 135.01L258.93 135.01L256.63 138.81Z" fill="#fff" stroke="#2aee2a" stroke-width="0.7"/>
<path d="M255.75 134.59L260.35 134.59L258.05 138.39Z" fill="#fff" stroke="#2aee2a" stroke-width="0.7"/>
<path d="M257.17 134.21L261.77 134.21L259.47 138.01Z" fill="#fff" stroke="#2aee2a" stroke-width="0.7"/>
<path d="M258.59 133.86L263.19 133.86L260.89 137.66Z" fill="#fff" stroke="#2aee2a" stroke-width="0.7"/>
<path d="M260.01 133.7L264.61 133.7L262.31 137.5Z" fill="#fff" stroke="#2aee2a" stroke-width="0.7"/>
<path d="M261.44 133.75L266.04 133.75L263.74 137.55Z" fill="#fff" stroke="#2aee2a" stroke-width="0.7"/>
<path d="M262.86 133.87L267.46 133.87L265.16 137.67Z" fill="#fff" stroke="#2aee2a" stroke-width="0.7"/>
<path d="M264.28 134.06L268.88 134.06L266.58 137.86Z" fill="#fff" stroke="#2aee2a" stroke-width="0.7"/>
<path d="M265.7 134.39L270.3 134.39L268 138.19Z" fill="#fff" stroke="#2aee2a" stroke-width="0.7"/>
<path d="M267.12 134.84L271.72 134.84L269.42 138.64Z" fill="#fff" stroke="#2aee2a" stroke-width="0.7"/>
<path d="M268.54 135.47L273.14 135.47L270.84 139.27Z" fill="#fff" stroke="#2aee2a" stroke-width="0.7"/>
<path d="M269.96 136.39L274.56 136.39L272.26 140.19Z" fill="#fff" stroke="#2aee2a" stroke-width="0.7"/>
<path d="M271.39 137.44L275.99 137.44L273.69 141.24Z" fill="#fff" stroke="#2aee2a" stroke-width="0.7"/>
<path d="M272.81 138.48L277.41 138.48L275.11 142.28Z" fill="#fff" stroke="#2aee2a" stroke-width="0.7"/>
<path d="M274.23 139.75L278.83 139.75L276.53 143.55Z" fill="#fff" stroke="#2aee2a" stroke-width="0.7"/>
<path d="M275.65 141.17L280.25 141.17L277.95 144.97Z" fill="#fff" stroke="#2aee2a" stroke-width="0.7"/>
<path d="M277.07 142.27L281.67 142.27L279.37 146.07Z" fill="#fff" stroke="#2aee2a" stroke-width="0.7"/>
<path d="M278.49 142.6L283.09 142.6L280.79 146.4Z" fill="#fff" stroke="#2aee2a" stroke-width="0.7"/>
<path d="M279.91 142.6L284.51 142.6L282.21 146.4Z" fill="#fff" stroke="#2aee2a" stroke-width="0.7"/>
<path d="M281.34 142.6L285.94 142.6L283.64 146.4Z" fill="#fff" stroke="#2aee2a" stroke-width="0.7"/>
<path d="M282.76 142.25L287.36 142.25L285.06 146.05Z" fill="#fff" stroke="#2aee2a" stroke-width="0.7"/>
<path d="M284.18 140.51L288.78 140.51L286.48 144.31Z" fill="#fff" stroke="#2aee2a" stroke-width="0.7"/>
<path d="M285.6 138.06L290.2 138.06L287.9 141.86Z" fill="#fff" stroke="#2aee2a" stroke-width="0.7"/>
<path d="M287.02 135.35L291.62 135.35L289.32 139.15Z" fill="#fff" stroke="#2aee2a" stroke-width="0.7"/>
<path d="M288.44 131.8L293.04 131.8L290.74 135.6Z" fill="#fff" stroke="#2aee2a" stroke-width="0.7"/>
<path d="M289.86 128.33L294.46 128.33L292.16 132.13Z" fill="#fff" stroke="#2aee2a" stroke-width="0.7"/>
<path d="M291.29 125.22L295.89 125.22L293.59 129.02Z" fill="#fff" stroke="#2aee2a" stroke-width="0.7"/>
<path d="M292.71 122.22L297.31 122.22L295.01 126.02Z" fill="#fff" stroke="#2aee2a" stroke-width="0.7"/>
<path d="M294.13 119.29L298.73 119.29L296.43 123.09Z" fill="#fff" stroke="#2aee2a" stroke-width="0.7"/>
<path d="M295.55 116.44L300.15 116.44L297.85 120.24Z" fill="#fff" stroke="#2aee2a" stroke-width="0.7"/>
<path d="M296.97 114.17L301.57 114.17L299.27 117.97Z" fill="#fff" stroke="#2aee2a" stroke-width="0.7"/>
<path d="M298.39 112.32L302.99 112.32L300.69 116.12Z" fill="#fff" stroke="#2aee2a" stroke-width="0.7"/>
<path d="M299.81 110.71L304.41 110.71L302.11 114.51Z" fill="#fff" stroke="#2aee2a" stroke-width="0.7"/>
<path d="M301.24 109.26L305.84 109.26L303.54 113.06Z" fill="#fff" stroke="#2aee2a" stroke-width="0.7"/>
<path d="M302.66 107.89L307.26 107.89L304.96 111.69Z" fill="#fff" stroke="#2aee2a" stroke-width="0.7"/>
<path d="M305.16 105.64L309.76 105.64L307.46 109.44Z" fill="#fff" stroke="#2aee2a" stroke-width="0.7"/>
<path d="M307.67 104.01L312.27 104.01L309.97 107.81Z" fill="#fff" stroke="#2aee2a" stroke-width="0.7"/>
<path d="M310.18 102.95L314.78 102.95L312.48 106.75Z" fill="#fff" stroke="#2aee2a" stroke-width="0.7"/>
<path d="M312.69 102.12L317.29 102.12L314.99 105.92Z" fill="#fff" stroke="#2aee2a" stroke-width="0.7"/>
<path d="M315.2 101.51L319.8 101.51L317.5 105.31Z" fill="#fff" stroke="#2aee2a" stroke-width="0.7"/>
<path d="M317.71 101.08L322.31 101.08L320.01 104.88Z" fill="#fff" stroke="#2aee2a" stroke-width="0.7"/>
<path d="M320.21 100.72L324.81 100.72L322.51 104.52Z" fill="#fff" stroke="#2aee2a" stroke-width="0.7"/>
<path d="M322.72 100.44L327.32 100.44L325.02 104.24Z" fill="#fff" stroke="#2aee2a" stroke-width="0.7"/>
<path d="M325.23 100.22L329.83 100.22L327.53 104.02Z" fill="#fff" stroke="#2aee2a" stroke-width="0.7"/>
<path d="M327.74 100.05L332.34 100.05L330.04 103.85Z" fill="#fff" stroke="#2aee2a" stroke-width="0.7"/>
<path d="M330.25 99.92L334.85 99.92L332.55 103.72Z" fill="#fff" stroke="#2aee2a" stroke-width="0.7"/>
<path d="M332.76 99.81L337.36 99.81L335.06 103.61Z" fill="#fff" stroke="#2aee2a" stroke-width="0.7"/>
<path d="M334.35 99.74L338.95 99.74L336.65 103.54Z" fill="#fff" stroke="#2aee2a" stroke-width="0.7"/>
<path d="M335.93 99.66L340.53 99.66L338.23 103.46Z" fill="#fff" stroke="#2aee2a" stroke-width="0.7"/>
<path d="M337.52 99.58L342.12 99.58L339.82 103.38Z" fill="#fff" stroke="#2aee2a" stroke-width="0.7"/>
<path d="M339.11 99.49L343.71 99.49L341.41 103.29Z" fill="#fff" stroke="#2aee2a" stroke-width="0.7"/>
<path d="M340.7 99.41L345.3 99.41L343 103.21Z" fill="#fff" stroke="#2aee2a" stroke-width="0.7"/>
<path d="M342.29 99.35L346.89 99.35L344.59 103.15Z" fill="#fff" stroke="#2aee2a" stroke-width="0.7"/>
<path d="M343.88 99.31L348.48 99.31L346.18 103.11Z" fill="#fff" stroke="#2aee2a" stroke-width="0.7"/>
<path d="M345.47 99.3L350.07 99.3L347.77 103.1Z" fill="#fff" stroke="#2aee2a" stroke-width="0.7"/>
<path d="M347.05 99.32L351.65 99.32L349.35 103.12Z" fill="#fff" stroke="#2aee2a" stroke-width="0.7"/>
<path d="M348.64 99.36L353.24 99.36L350.94 103.16Z" fill="#fff" stroke="#2aee2a" stroke-width="0.7"/>
<path d="M350.23 99.42L354.83 99.42L352.53 103.22Z" fill="#fff" stroke="#2aee2a" stroke-width="0.7"/>
<path d="M351.82 99.5L356.42 99.5L354.12 103.3Z" fill="#fff" stroke="#2aee2a" stroke-width="0.7"/>
<path d="M353.41 99.6L358.01 99.6L355.71 103.4Z" fill="#fff" stroke="#2aee2a" stroke-width="0.7"/>
<path d="M355 99.73L359.6 99.73L357.3 103.53Z" fill="#fff" stroke="#2aee2a" stroke-width="0.7"/>
<path d="M356.59 100.23L361.19 100.23L358.89 104.03Z" fill="#fff" stroke="#2aee2a" stroke-width="0.7"/>
<path d="M358.17 101.16L362.77 101.16L360.47 104.96Z" fill="#fff" stroke="#2aee2a" stroke-width="0.7"/>
<path d="M359.76 102.46L364.36 102.46L362.06 106.26Z" fill="#fff" stroke="#2aee2a" stroke-width="0.7"/>
<path d="M361.35 105.29L365.95 105.29L363.65 109.09Z" fill="#fff" stroke="#2aee2a" stroke-width="0.7"/>
<path d="M363.86 111.19L368.46 111.19L366.16 114.99Z" fill="#fff" stroke="#2aee2a" stroke-width="0.7"/>
<path d="M366.37 117.54L370.97 117.54L368.67 121.34Z" fill="#fff" stroke="#2aee2a" stroke-width="0.7"/>
<path d="M368.88 122.98L373.48 122.98L371.18 126.78Z" fill="#fff" stroke="#2aee2a" stroke-width="0.7"/>
<path d="M371.38 126.64L375.98 126.64L373.68 130.44Z" fill="#fff" stroke="#2aee2a" stroke-width="0.7"/>
<path d="M373.89 128.85L378.49 128.85L376.19 132.65Z" fill="#fff" stroke="#2aee2a" stroke-width="0.7"/>
<path d="M376.4 129.25L381 129.25L378.7 133.05Z" fill="#fff" stroke="#2aee2a" stroke-width="0.7"/>
<path d="M378.91 129.4L383.51 129.4L381.21 133.2Z" fill="#fff" stroke="#2aee2a" stroke-width="0.7"/>
<path d="M381.42 127.66L386.02 127.66L383.72 131.46Z" fill="#fff" stroke="#2aee2a" stroke-width="0.7"/>
<path d="M383.93 124.5L388.53 124.5L386.23 128.3Z" fill="#fff" stroke="#2aee2a" stroke-width="0.7"/>
<path d="M386.43 120.36L391.03 120.36L388.73 124.16Z" fill="#fff" stroke="#2aee2a" stroke-width="0.7"/>
<path d="M388.94 115.45L393.54 115.45L391.24 119.25Z" fill="#fff" stroke="#2aee2a" stroke-width="0.7"/>
<path d="M391.45 109.72L396.05 109.72L393.75 113.52Z" fill="#fff" stroke="#2aee2a" stroke-width="0.7"/>
<path d="M393.96 103.65L398.56 103.65L396.26 107.45Z" fill="#fff" stroke="#2aee2a" stroke-width="0.7"/>
<path d="M396.47 97.35L401.07 97.35L398.77 101.15Z" fill="#fff" stroke="#2aee2a" stroke-width="0.7"/>
<path d="M398.98 90.99L403.58 90.99L401.28 94.79Z" fill="#fff" stroke="#2aee2a" stroke-width="0.7"/>
<path d="M401.48 84.49L406.08 84.49L403.78 88.29Z" fill="#fff" stroke="#2aee2a" stroke-width="0.7"/>
<path d="M403.99 78.02L408.59 78.02L406.29 81.82Z" fill="#fff" stroke="#2aee2a" stroke-width="0.7"/>
<path d="M406.5 71.46L411.1 71.46L408.8 75.26Z" fill="#fff" stroke="#2aee2a" stroke-width="0.7"/>
<path d="M409.01 65.03L413.61 65.03L411.31 68.83Z" fill="#fff" stroke="#2aee2a" stroke-width="0.7"/>
<path d="M411.52 59.28L416.12 59.28L413.82 63.08Z" fill="#fff" stroke="#2aee2a" stroke-width="0.7"/>
<path d="M414.03 53.98L418.63 53.98L416.33 57.78Z" fill="#fff" stroke="#2aee2a" stroke-width="0.7"/>
<path d="M416.53 49.14L421.13 49.14L418.83 52.94Z" fill="#fff" stroke="#2aee2a" stroke-width="0.7"/>
<path d="M419.04 44.93L423.64 44.93L421.34 48.73Z" fill="#fff" stroke="#2aee2a" stroke-width="0.7"/>
<path d="M420.05 43.3L424.65 43.3L422.35 47.1Z" fill="#fff" stroke="#2aee2a" stroke-width="0.7"/>
<path d="M421.05 41.68L425.65 41.68L423.35 45.48Z" fill="#fff" stroke="#2aee2a" stroke-width="0.7"/>
<path d="M422.05 40.13L426.65 40.13L424.35 43.93Z" fill="#fff" stroke="#2aee2a" stroke-width="0.7"/>
<path d="M423.06 38.68L427.66 38.68L425.36 42.48Z" fill="#fff" stroke="#2aee2a" stroke-width="0.7"/>
<path d="M424.06 37.4L428.66 37.4L426.36 41.2Z" fill="#fff" stroke="#2aee2a" stroke-width="0.7"/>
<path d="M425.06 36.32L429.66 36.32L427.36 40.12Z" fill="#fff" stroke="#2aee2a" stroke-width="0.7"/>
<path d="M426.07 35.5L430.67 35.5L428.37 39.3Z" fill="#fff" stroke="#2aee2a" stroke-width="0.7"/>
<path d="M427.07 34.93L431.67 34.93L429.37 38.73Z" fill="#fff" stroke="#2aee2a" stroke-width="0.7"/>
<path d="M428.07 34.41L432.67 34.41L430.37 38.21Z" fill="#fff" stroke="#2aee2a" stroke-width="0.7"/>
<path d="M429.08 33.94L433.68 33.94L431.38 37.74Z" fill="#fff" stroke="#2aee2a" stroke-width="0.7"/>
<path d="M430.08 33.54L434.68 33.54L432.38 37.34Z" fill="#fff" stroke="#2aee2a" stroke-width="0.7"/>
<path d="M431.08 33.22L435.68 33.22L433.38 37.02Z" fill="#fff" stroke="#2aee2a" stroke-width="0.7"/>
<path d="M432.09 33L436.69 33L434.39 36.8Z" fill="#fff" stroke="#2aee2a" stroke-width="0.7"/>
<path d="M433.09 32.9L437.69 32.9L435.39 36.7Z" fill="#fff" stroke="#2aee2a" stroke-width="0.7"/>
<path d="M434.09 32.85L438.69 32.85L436.39 36.65Z" fill="#fff" stroke="#2aee2a" stroke-width="0.7"/>
<path d="M435.1 32.81L439.7 32.81L437.4 36.61Z" fill="#fff" stroke="#2aee2a" stroke-width="0.7"/>
<path d="M436.1 32.8L440.7 32.8L438.4 36.6Z" fill="#fff" stroke="#2aee2a" stroke-width="0.7"/>
<rect x="154.21" y="55.06" width="2.5" height="2.4" fill="#0000f0"/>
<rect x="156.72" y="62.3" width="2.5" height="2.4" fill="#0000f0"/>
<rect x="159.23" y="70.69" width="2.5" height="2.4" fill="#0000f0"/>
<rect x="161.74" y="79.14" width="2.5" height="2.4" fill="#0000f0"/>
<rect x="164.24" y="87.26" width="2.5" height="2.4" fill="#0000f0"/>
<rect x="166.75" y="95.41" width="2.5" height="2.4" fill="#0000f0"/>
<rect x="169.26" y="103.55" width="2.5" height="2.4" fill="#0000f0"/>
<rect x="171.77" y="111.68" width="2.5" height="2.4" fill="#0000f0"/>
<rect x="174.28" y="120.02" width="2.5" height="2.4" fill="#0000f0"/>
<rect x="176.78" y="128.52" width="2.5" height="2.4" fill="#0000f0"/>
<rect x="179.29" y="137.03" width="2.5" height="2.4" fill="#0000f0"/>
<rect x="181.8" y="145.34" width="2.5" height="2.4" fill="#0000f0"/>
<rect x="184.31" y="153.39" width="2.5" height="2.4" fill="#0000f0"/>
<rect x="186.82" y="161.49" width="2.5" height="2.4" fill="#0000f0"/>
<rect x="189.33" y="169.56" width="2.5" height="2.4" fill="#0000f0"/>
<rect x="191.84" y="177.23" width="2.5" height="2.4" fill="#0000f0"/>
<rect x="194.34" y="183.74" width="2.5" height="2.4" fill="#0000f0"/>
<rect x="196.85" y="188.68" width="2.5" height="2.4" fill="#0000f0"/>
<rect x="198.52" y="190.76" width="2.5" height="2.4" fill="#0000f0"/>
<rect x="200.2" y="192.4" width="2.5" height="2.4" fill="#0000f0"/>
<rect x="201.87" y="193.56" width="2.5" height="2.4" fill="#0000f0"/>
<rect x="203.54" y="194.1" width="2.5" height="2.4" fill="#0000f0"/>
<rect x="205.21" y="194.44" width="2.5" height="2.4" fill="#0000f0"/>
<rect x="206.88" y="194.6" width="2.5" height="2.4" fill="#0000f0"/>
<rect x="208.56" y="194.17" width="2.5" height="2.4" fill="#0000f0"/>
<rect x="210.23" y="192.86" width="2.5" height="2.4" fill="#0000f0"/>
<rect x="211.9" y="191.25" width="2.5" height="2.4" fill="#0000f0"/>
<rect x="213.57" y="189.24" width="2.5" height="2.4" fill="#0000f0"/>
<rect x="215.25" y="186.64" width="2.5" height="2.4" fill="#0000f0"/>
<rect x="216.92" y="183.63" width="2.5" height="2.4" fill="#0000f0"/>
<rect x="218.59" y="180.12" width="2.5" height="2.4" fill="#0000f0"/>
<rect x="220.26" y="175.86" width="2.5" height="2.4" fill="#0000f0"/>
<rect x="221.94" y="171.24" width="2.5" height="2.4" fill="#0000f0"/>
<rect x="223.61" y="166.02" width="2.5" height="2.4" fill="#0000f0"/>
<rect x="225.28" y="160.71" width="2.5" height="2.4" fill="#0000f0"/>
<rect x="227.79" y="153.12" width="2.5" height="2.4" fill="#0000f0"/>
<rect x="230.3" y="149.07" width="2.5" height="2.4" fill="#0000f0"/>
<rect x="232.8" y="146.76" width="2.5" height="2.4" fill="#0000f0"/>
<rect x="235.31" y="145.34" width="2.5" height="2.4" fill="#0000f0"/>
<rect x="237.82" y="144.37" width="2.5" height="2.4" fill="#0000f0"/>
<rect x="240.33" y="143.57" width="2.5" height="2.4" fill="#0000f0"/>
<rect x="242.84" y="142.73" width="2.5" height="2.4" fill="#0000f0"/>
<rect x="245.35" y="141.9" width="2.5" height="2.4" fill="#0000f0"/>
<rect x="247.85" y="141.13" width="2.5" height="2.4" fill="#0000f0"/>
<rect x="250.36" y="140.37" width="2.5" height="2.4" fill="#0000f0"/>
<rect x="252.87" y="139.58" width="2.5" height="2.4" fill="#0000f0"/>
<rect x="255.38" y="139.12" width="2.5" height="2.4" fill="#0000f0"/>
<rect x="256.8" y="139.14" width="2.5" height="2.4" fill="#0000f0"/>
<rect x="258.22" y="139.35" width="2.5" height="2.4" fill="#0000f0"/>
<rect x="259.64" y="139.67" width="2.5" height="2.4" fill="#0000f0"/>
<rect x="261.06" y="140" width="2.5" height="2.4" fill="#0000f0"/>
<rect x="262.49" y="140.35" width="2.5" height="2.4" fill="#0000f0"/>
<rect x="263.91" y="140.77" width="2.5" height="2.4" fill="#0000f0"/>
<rect x="265.33" y="141.3" width="2.5" height="2.4" fill="#0000f0"/>
<rect x="266.75" y="142.19" width="2.5" height="2.4" fill="#0000f0"/>
<rect x="268.17" y="143.42" width="2.5" height="2.4" fill="#0000f0"/>
<rect x="269.59" y="144.4" width="2.5" height="2.4" fill="#0000f0"/>
<rect x="271.01" y="145.23" width="2.5" height="2.4" fill="#0000f0"/>
<rect x="272.44" y="145.95" width="2.5" height="2.4" fill="#0000f0"/>
<rect x="273.86" y="146.37" width="2.5" height="2.4" fill="#0000f0"/>
<rect x="275.28" y="146.33" width="2.5" height="2.4" fill="#0000f0"/>
<rect x="276.7" y="146.01" width="2.5" height="2.4" fill="#0000f0"/>
<rect x="278.12" y="145.45" width="2.5" height="2.4" fill="#0000f0"/>
<rect x="279.54" y="144.26" width="2.5" height="2.4" fill="#0000f0"/>
<rect x="280.96" y="141.4" width="2.5" height="2.4" fill="#0000f0"/>
<rect x="282.39" y="138.22" width="2.5" height="2.4" fill="#0000f0"/>
<rect x="283.81" y="134.99" width="2.5" height="2.4" fill="#0000f0"/>
<rect x="285.23" y="131.62" width="2.5" height="2.4" fill="#0000f0"/>
<rect x="286.65" y="128.53" width="2.5" height="2.4" fill="#0000f0"/>
<rect x="288.07" y="125.7" width="2.5" height="2.4" fill="#0000f0"/>
<rect x="289.49" y="122.82" width="2.5" height="2.4" fill="#0000f0"/>
<rect x="290.91" y="119.64" width="2.5" height="2.4" fill="#0000f0"/>
<rect x="292.34" y="116.52" width="2.5" height="2.4" fill="#0000f0"/>
<rect x="293.76" y="113.85" width="2.5" height="2.4" fill="#0000f0"/>
<rect x="295.18" y="111.54" width="2.5" height="2.4" fill="#0000f0"/>
<rect x="296.6" y="109.76" width="2.5" height="2.4" fill="#0000f0"/>
<rect x="298.02" y="108.23" width="2.5" height="2.4" fill="#0000f0"/>
<rect x="299.44" y="106.88" width="2.5" height="2.4" fill="#0000f0"/>
<rect x="300.86" y="105.67" width="2.5" height="2.4" fill="#0000f0"/>
<rect x="302.29" y="104.55" width="2.5" height="2.4" fill="#0000f0"/>
<rect x="303.71" y="103.49" width="2.5" height="2.4" fill="#0000f0"/>
<rect x="306.21" y="101.81" width="2.5" height="2.4" fill="#0000f0"/>
<rect x="308.72" y="100.41" width="2.5" height="2.4" fill="#0000f0"/>
<rect x="311.23" y="99.24" width="2.5" height="2.4" fill="#0000f0"/>
<rect x="313.74" y="98.22" width="2.5" height="2.4" fill="#0000f0"/>
<rect x="316.25" y="97.38" width="2.5" height="2.4" fill="#0000f0"/>
<rect x="318.76" y="96.68" width="2.5" height="2.4" fill="#0000f0"/>
<rect x="321.26" y="96.07" width="2.5" height="2.4" fill="#0000f0"/>
<rect x="323.77" y="95.56" width="2.5" height="2.4" fill="#0000f0"/>
<rect x="326.28" y="95.14" width="2.5" height="2.4" fill="#0000f0"/>
<rect x="328.79" y="94.81" width="2.5" height="2.4" fill="#0000f0"/>
<rect x="331.3" y="94.53" width="2.5" height="2.4" fill="#0000f0"/>
<rect x="333.81" y="94.3" width="2.5" height="2.4" fill="#0000f0"/>
<rect x="335.4" y="94.17" width="2.5" height="2.4" fill="#0000f0"/>
<rect x="336.98" y="94.04" width="2.5" height="2.4" fill="#0000f0"/>
<rect x="338.57" y="93.91" width="2.5" height="2.4" fill="#0000f0"/>
<rect x="340.16" y="93.78" width="2.5" height="2.4" fill="#0000f0"/>
<rect x="341.75" y="93.66" width="2.5" height="2.4" fill="#0000f0"/>
<rect x="343.34" y="93.57" width="2.5" height="2.4" fill="#0000f0"/>
<rect x="344.93" y="93.51" width="2.5" height="2.4" fill="#0000f0"/>
<rect x="346.52" y="93.5" width="2.5" height="2.4" fill="#0000f0"/>
<rect x="348.1" y="93.52" width="2.5" height="2.4" fill="#0000f0"/>
<rect x="349.69" y="93.57" width="2.5" height="2.4" fill="#0000f0"/>
<rect x="351.28" y="93.63" width="2.5" height="2.4" fill="#0000f0"/>
<rect x="352.87" y="93.72" width="2.5" height="2.4" fill="#0000f0"/>
<rect x="354.46" y="93.84" width="2.5" height="2.4" fill="#0000f0"/>
<rect x="356.05" y="94.17" width="2.5" height="2.4" fill="#0000f0"/>
<rect x="357.64" y="94.75" width="2.5" height="2.4" fill="#0000f0"/>
<rect x="359.22" y="95.57" width="2.5" height="2.4" fill="#0000f0"/>
<rect x="360.81" y="97.32" width="2.5" height="2.4" fill="#0000f0"/>
<rect x="362.4" y="99.99" width="2.5" height="2.4" fill="#0000f0"/>
<rect x="364.91" y="107.51" width="2.5" height="2.4" fill="#0000f0"/>
<rect x="367.42" y="115.51" width="2.5" height="2.4" fill="#0000f0"/>
<rect x="369.93" y="121.65" width="2.5" height="2.4" fill="#0000f0"/>
<rect x="372.43" y="125.83" width="2.5" height="2.4" fill="#0000f0"/>
<rect x="374.94" y="128.41" width="2.5" height="2.4" fill="#0000f0"/>
<rect x="377.45" y="129.54" width="2.5" height="2.4" fill="#0000f0"/>
<rect x="379.96" y="129.87" width="2.5" height="2.4" fill="#0000f0"/>
<rect x="382.47" y="128.78" width="2.5" height="2.4" fill="#0000f0"/>
<rect x="384.98" y="125.07" width="2.5" height="2.4" fill="#0000f0"/>
<rect x="387.48" y="120.51" width="2.5" height="2.4" fill="#0000f0"/>
<rect x="389.99" y="115.15" width="2.5" height="2.4" fill="#0000f0"/>
<rect x="392.5" y="109.19" width="2.5" height="2.4" fill="#0000f0"/>
<rect x="395.01" y="103.18" width="2.5" height="2.4" fill="#0000f0"/>
<rect x="397.52" y="97.03" width="2.5" height="2.4" fill="#0000f0"/>
<rect x="400.03" y="90.69" width="2.5" height="2.4" fill="#0000f0"/>
<rect x="402.53" y="84.17" width="2.5" height="2.4" fill="#0000f0"/>
<rect x="405.04" y="77.62" width="2.5" height="2.4" fill="#0000f0"/>
<rect x="407.55" y="70.93" width="2.5" height="2.4" fill="#0000f0"/>
<rect x="410.06" y="64.32" width="2.5" height="2.4" fill="#0000f0"/>
<rect x="412.57" y="58.43" width="2.5" height="2.4" fill="#0000f0"/>
<rect x="415.08" y="53.02" width="2.5" height="2.4" fill="#0000f0"/>
<rect x="417.58" y="48.09" width="2.5" height="2.4" fill="#0000f0"/>
</g>
<g stroke="#111" stroke-width="1.1" fill="none">
<rect x="137.4" y="5.1" width="301" height="219.1"/>
<path d="M133.2 5.1H137.4 M434.2 5.1H438.4 M135.2 23.36H137.4 M436.2 23.36H438.4 M133.2 41.62H137.4 M434.2 41.62H438.4 M135.2 59.88H137.4 M436.2 59.88H438.4 M133.2 78.13H137.4 M434.2 78.13H438.4 M135.2 96.39H137.4 M436.2 96.39H438.4 M133.2 114.65H137.4 M434.2 114.65H438.4 M135.2 132.91H137.4 M436.2 132.91H438.4 M133.2 151.17H137.4 M434.2 151.17H438.4 M135.2 169.42H137.4 M436.2 169.42H438.4 M133.2 187.68H137.4 M434.2 187.68H438.4 M135.2 205.94H137.4 M436.2 205.94H438.4 M133.2 224.2H137.4 M434.2 224.2H438.4 M137.4 224.2V228.4 M137.4 5.1V9.3 M162.48 224.2V226.6 M162.48 5.1V7.5 M187.57 224.2V228.4 M187.57 5.1V9.3 M212.65 224.2V226.6 M212.65 5.1V7.5 M237.73 224.2V228.4 M237.73 5.1V9.3 M262.82 224.2V226.6 M262.82 5.1V7.5 M287.9 224.2V228.4 M287.9 5.1V9.3 M312.98 224.2V226.6 M312.98 5.1V7.5 M338.07 224.2V228.4 M338.07 5.1V9.3 M363.15 224.2V226.6 M363.15 5.1V7.5 M388.23 224.2V228.4 M388.23 5.1V9.3 M413.32 224.2V226.6 M413.32 5.1V7.5 M438.4 224.2V228.4 M438.4 5.1V9.3"/>
</g>
<text transform="translate(129.4,9.3) scale(0.97,1.13)" font-family="Liberation Serif" font-size="13" fill="#111" stroke="#111" stroke-width="0.22" text-anchor="end">1.0</text>
<text transform="translate(129.4,45.82) scale(0.97,1.13)" font-family="Liberation Serif" font-size="13" fill="#111" stroke="#111" stroke-width="0.22" text-anchor="end">0.5</text>
<text transform="translate(129.4,82.33) scale(0.97,1.13)" font-family="Liberation Serif" font-size="13" fill="#111" stroke="#111" stroke-width="0.22" text-anchor="end">0.0</text>
<text transform="translate(129.4,118.85) scale(0.97,1.13)" font-family="Liberation Serif" font-size="13" fill="#111" stroke="#111" stroke-width="0.22" text-anchor="end">-0.5</text>
<text transform="translate(129.4,155.37) scale(0.97,1.13)" font-family="Liberation Serif" font-size="13" fill="#111" stroke="#111" stroke-width="0.22" text-anchor="end">-1.0</text>
<text transform="translate(129.4,191.88) scale(0.97,1.13)" font-family="Liberation Serif" font-size="13" fill="#111" stroke="#111" stroke-width="0.22" text-anchor="end">-1.5</text>
<text transform="translate(129.4,228.4) scale(0.97,1.13)" font-family="Liberation Serif" font-size="13" fill="#111" stroke="#111" stroke-width="0.22" text-anchor="end">-2.0</text>
<text transform="translate(137.4,241.6) scale(0.97,1.12)" font-family="Liberation Serif" font-size="12.5" fill="#111" stroke="#111" stroke-width="0.22" text-anchor="middle">0</text>
<text transform="translate(187.57,241.6) scale(0.97,1.12)" font-family="Liberation Serif" font-size="12.5" fill="#111" stroke="#111" stroke-width="0.22" text-anchor="middle">60</text>
<text transform="translate(237.73,241.6) scale(0.97,1.12)" font-family="Liberation Serif" font-size="12.5" fill="#111" stroke="#111" stroke-width="0.22" text-anchor="middle">120</text>
<text transform="translate(287.9,241.6) scale(0.97,1.12)" font-family="Liberation Serif" font-size="12.5" fill="#111" stroke="#111" stroke-width="0.22" text-anchor="middle">180</text>
<text transform="translate(338.07,241.6) scale(0.97,1.12)" font-family="Liberation Serif" font-size="12.5" fill="#111" stroke="#111" stroke-width="0.22" text-anchor="middle">240</text>
<text transform="translate(388.23,241.6) scale(0.97,1.12)" font-family="Liberation Serif" font-size="12.5" fill="#111" stroke="#111" stroke-width="0.22" text-anchor="middle">300</text>
<text transform="translate(438.4,241.6) scale(0.97,1.12)" font-family="Liberation Serif" font-size="12.5" fill="#111" stroke="#111" stroke-width="0.22" text-anchor="middle">360</text>
<text transform="translate(271.3,264.9) scale(0.95,1.14)" font-family="Liberation Serif" font-size="13" fill="#111" stroke="#111" stroke-width="0.22"><tspan font-style="italic">&#952;</tspan><tspan font-style="italic" font-size="8" dy="3.2">s</tspan><tspan dy="-3.2">(deg)</tspan></text>
<text transform="translate(100.3,129.6) rotate(-90) scale(1.1,1.0)" font-family="Liberation Serif" font-size="13" fill="#111" stroke="#111" stroke-width="0.22" font-style="italic">C<tspan font-size="8.5" dx="-1.6" dy="5.2">p</tspan></text>
<text transform="translate(259.2,291.4) scale(1.0,1.0)" font-family="Liberation Serif" font-size="16" fill="#111" stroke="#111" stroke-width="0.22">(a)</text>
<rect x="333.8" y="12.8" width="71.4" height="47.2" fill="#fff" stroke="#999" stroke-width="0.9"/>
<g stroke-width="0.7">
<path d="M335.7 21.6H360" stroke="#ff6060"/>
<circle cx="347.6" cy="21.6" r="1.6" fill="none" stroke="#ff2a2a" stroke-width="0.8"/>
<path d="M335.7 37.6H360" stroke="#6060ff"/>
<rect x="346.1" y="35.9" width="3.5" height="3.4" fill="#0000f0"/>
<path d="M335.7 53.2H360" stroke="#50ff50"/>
<path d="M345.5 51.6L350 51.6L347.75 55.4Z" fill="none" stroke="#22ee22" stroke-width="0.8"/>
</g>
<g font-family="Liberation Serif" font-size="12.6" fill="#111" stroke="#111" stroke-width="0.2">
<text x="362.0" y="24.9"><tspan font-style="italic">x</tspan>/D=8</text>
<text x="362.0" y="40.9"><tspan font-style="italic">x</tspan>/D=8.5</text>
<text x="362.0" y="56.5"><tspan font-style="italic">x</tspan>/D=9</text>
</g>
<clipPath id="clip24"><rect x="24.7" y="313.2" width="152.9" height="140.1"/></clipPath>
<rect x="24.7" y="313.2" width="152.9" height="140.1" fill="#00ff32"/>
<g clip-path="url(#clip24)">
<path d="M31.5 313.2C31.58 308.73 39.08 309.57 42.5 313.2C45.92 316.83 49.42 328.53 52 335C54.58 341.47 57.17 347.5 58 352C58.83 356.5 58.33 361 57 362C55.67 363 52.5 361.67 50 358C47.5 354.33 45.08 347.47 42 340C38.92 332.53 31.42 317.67 31.5 313.2Z" fill="#28fa16" />
<path d="M58 313.2C68.27 311.62 109.33 311.73 121 313.2C132.67 314.67 125.83 318.53 128 322C130.17 325.47 132.33 329.83 134 334C135.67 338.17 136.92 342.33 138 347C139.08 351.67 139.92 356.5 140.5 362C141.08 367.5 141.25 373.67 141.5 380C141.75 386.33 142.08 394.17 142 400C141.92 405.83 141.5 410.83 141 415C140.5 419.17 140 420.83 139 425C138 429.17 136.5 435.28 135 440C133.5 444.72 133.83 451.08 130 453.3C126.17 455.52 114 455.52 112 453.3C110 451.08 116.42 444.72 118 440C119.58 435.28 120.83 430.83 121.5 425C122.17 419.17 122.58 410.83 122 405C121.42 399.17 121.67 392.5 118 390C114.33 387.5 104.67 392.33 100 390C95.33 387.67 94.17 379.67 90 376C85.83 372.33 79.33 368.67 75 368C70.67 367.33 66.83 372 64 372C61.17 372 59.17 370 58 368C56.83 366 56.55 365.12 57 360C57.45 354.88 60.3 343.52 60.7 337.3C61.1 331.08 59.85 326.72 59.4 322.7C58.95 318.68 47.73 314.78 58 313.2Z" fill="#28fa16" />
<path d="M158 313.2C161.33 309.57 174.67 289.85 178 313.2C181.33 336.55 186.83 429.95 178 453.3C169.17 476.65 132.17 455.52 125 453.3C117.83 451.08 132.33 444.72 135 440C137.67 435.28 139.33 429.5 141 425C142.67 420.5 143.17 417.17 145 413C146.83 408.83 150.17 404.67 152 400C153.83 395.33 155.08 391.67 156 385C156.92 378.33 157.17 368.33 157.5 360C157.83 351.67 157.92 342.8 158 335C158.08 327.2 154.67 316.83 158 313.2Z" fill="#28fa16" />
<path d="M40 362C41 356.67 49 355.33 52 356C55 356.67 57.33 361.33 58 366C58.67 370.67 57 379.33 56 384C55 388.67 53.67 393.33 52 394C50.33 394.67 48 393.33 46 388C44 382.67 39 367.33 40 362Z" fill="#28fa16" />
<path d="M24 416H66M24 422H66" stroke="#28fa16" stroke-width="1.6"/>
<path d="M121 416H178M121 422H178" stroke="#00ff32" stroke-width="1.6"/>
<path d="M86 352C87.03 349.75 89.67 346 92 344.5C94.33 343 97.5 342.75 100 343C102.5 343.25 104.77 344 107 346C109.23 348 111.65 352 113.4 355C115.15 358 116.43 360.83 117.5 364C118.57 367.17 119.22 370.5 119.8 374C120.38 377.5 121.13 382.33 121 385C120.87 387.67 120.33 389.25 119 390C117.67 390.75 115.37 389.83 113 389.5C110.63 389.17 107.63 389.42 104.8 388C101.97 386.58 98.47 383.33 96 381C93.53 378.67 91.5 376.5 90 374C88.5 371.5 87.7 368.67 87 366C86.3 363.33 85.97 360.33 85.8 358C85.63 355.67 84.97 354.25 86 352Z" fill="#96f020" />
<path d="M87.8 351C88.55 349 90.63 347.03 92.5 346C94.37 344.97 97 344.63 99 344.8C101 344.97 102.92 345.63 104.5 347C106.08 348.37 107.5 350.67 108.5 353C109.5 355.33 110.17 358.33 110.5 361C110.83 363.67 110.92 366.67 110.5 369C110.08 371.33 109.42 373.83 108 375C106.58 376.17 104.17 376.5 102 376C99.83 375.5 97 373.83 95 372C93 370.17 91.17 367.33 90 365C88.83 362.67 88.37 360.33 88 358C87.63 355.67 87.05 353 87.8 351Z" fill="#bef52d" />
<ellipse cx="103.2" cy="369.8" rx="1.6" ry="1.4" fill="#f0f000"/>
<path d="M65 414C63.42 411.67 65.17 404.33 65.5 400C65.83 395.67 66.17 391.83 67 388C67.83 384.17 69 379.92 70.5 377C72 374.08 73.92 371.75 76 370.5C78.08 369.25 80.75 369.25 83 369.5C85.25 369.75 87.75 370.67 89.5 372C91.25 373.33 92.5 375.5 93.5 377.5C94.5 379.5 95.08 381.58 95.5 384C95.92 386.42 96.58 389.33 96 392C95.42 394.67 95.5 396.33 92 400C88.5 403.67 79.5 411.67 75 414C70.5 416.33 66.58 416.33 65 414Z" fill="#00e07a" />
<path d="M70 412C69.33 410 70.5 403.67 71 400C71.5 396.33 72.08 392.83 73 390C73.92 387.17 75 384.67 76.5 383C78 381.33 80.25 380.25 82 380C83.75 379.75 85.7 380.5 87 381.5C88.3 382.5 89.22 384.25 89.8 386C90.38 387.75 91.3 390 90.5 392C89.7 394 87.58 394.67 85 398C82.42 401.33 77.5 409.67 75 412C72.5 414.33 70.67 414 70 412Z" fill="#00d494" />
<path d="M66.6 410C65.88 408.5 66.73 404.02 66.9 401C67.07 397.98 66.98 395 67.6 391.9C68.22 388.8 69.38 384.9 70.6 382.4C71.82 379.9 73.33 378.18 74.9 376.9C76.47 375.62 78.42 374.97 80 374.7C81.58 374.43 82.93 374.67 84.4 375.3C85.87 375.93 87.58 376.95 88.8 378.5C90.02 380.05 91.07 382.52 91.7 384.6C92.33 386.68 92.95 389.93 92.6 391C92.25 392.07 90.27 391.75 89.6 391C88.93 390.25 89.17 387.9 88.6 386.5C88.03 385.1 87.13 383.55 86.2 382.6C85.27 381.65 84.15 381 83 380.8C81.85 380.6 80.43 380.8 79.3 381.4C78.17 382 76.98 382.8 76.2 384.4C75.42 386 75.2 388.73 74.6 391C74 393.27 73.17 394.83 72.6 398C72.03 401.17 72.2 408 71.2 410C70.2 412 67.32 411.5 66.6 410Z" fill="#00f0f0" />
<path d="M67 413C66.8 411.17 67.1 405.75 67.4 403C67.7 400.25 68.17 398.23 68.8 396.5C69.43 394.77 70.4 393.08 71.2 392.6C72 392.12 73.43 392.45 73.6 393.6C73.77 394.75 72.77 397.35 72.2 399.5C71.63 401.65 70.8 404.08 70.2 406.5C69.6 408.92 69.13 412.92 68.6 414C68.07 415.08 67.2 414.83 67 413Z" fill="#0096ff" />
<path d="M67.3 411C67.13 409.67 67.62 405.23 68 403C68.38 400.77 69 398.53 69.6 397.6C70.2 396.67 71.43 396.42 71.6 397.4C71.77 398.38 71.03 401.23 70.6 403.5C70.17 405.77 69.55 409.75 69 411C68.45 412.25 67.47 412.33 67.3 411Z" fill="#0000d2" />
<ellipse cx="82.6" cy="388.6" rx="7" ry="7.2" fill="url(#vb)"/>
<path d="M78 386C78.38 385 78.75 384.13 79.5 383.5C80.25 382.87 81.5 382.2 82.5 382.2C83.5 382.2 84.72 382.78 85.5 383.5C86.28 384.22 86.87 385.42 87.2 386.5C87.53 387.58 87.7 388.92 87.5 390C87.3 391.08 86.83 392.33 86 393C85.17 393.67 83.67 394.08 82.5 394C81.33 393.92 79.88 393.25 79 392.5C78.12 391.75 77.37 390.58 77.2 389.5C77.03 388.42 77.62 387 78 386Z" fill="#0a0a0a" opacity="0.85"/>
<circle cx="78" cy="384.5" r="0.9" fill="#2a3a32" opacity="0.7"/>
<circle cx="86.5" cy="384.3" r="0.9" fill="#2a3a32" opacity="0.7"/>
<circle cx="88.3" cy="388.5" r="0.9" fill="#2a3a32" opacity="0.7"/>
<circle cx="77" cy="391.5" r="0.9" fill="#2a3a32" opacity="0.7"/>
<circle cx="84.5" cy="394.5" r="0.9" fill="#2a3a32" opacity="0.7"/>
<circle cx="80" cy="394.8" r="0.9" fill="#2a3a32" opacity="0.7"/>
<path d="M104 394.4 A26.2 26.2 0 0 1 113.5 400.5" fill="none" stroke="#00d0f0" stroke-width="2.2"/>
<path d="M99.5 392.9 A26.2 26.2 0 0 1 111 397.8" fill="none" stroke="#0028e0" stroke-width="1.3"/>
<path d="M119.5 384.2C120.17 383.87 121.08 385.53 121.6 387C122.12 388.47 122.43 390 122.6 393C122.77 396 122.77 401.33 122.6 405C122.43 408.67 122.12 412.25 121.6 415C121.08 417.75 120.17 422.33 119.5 421.5C118.83 420.67 118.02 413.92 117.6 410C117.18 406.08 117 401.5 117 398C117 394.5 117.18 391.3 117.6 389C118.02 386.7 118.83 384.53 119.5 384.2Z" fill="#ffe600" />
<path d="M120 390C120.68 389.5 121.6 392.5 122 395C122.4 397.5 122.47 401.83 122.4 405C122.33 408.17 122.07 411.58 121.6 414C121.13 416.42 120.18 420.17 119.6 419.5C119.02 418.83 118.38 413.58 118.1 410C117.82 406.42 117.58 401.33 117.9 398C118.22 394.67 119.32 390.5 120 390Z" fill="#ff8c00" />
<path d="M120.2 395.5C120.7 395.33 121.5 397.92 121.8 400C122.1 402.08 122.1 405.5 122 408C121.9 410.5 121.6 413.25 121.2 415C120.8 416.75 120.02 419.33 119.6 418.5C119.18 417.67 118.83 412.92 118.7 410C118.57 407.08 118.55 403.42 118.8 401C119.05 398.58 119.7 395.67 120.2 395.5Z" fill="#dc0000" />
<path d="M56.2 313C56.57 314.62 57.93 318.65 58.4 322.7C58.87 326.75 59.07 332.17 59 337.3C58.93 342.43 58.47 348.72 58 353.5C57.53 358.28 56.82 362.9 56.2 366C55.58 369.1 55.03 369.22 54.3 372.1C53.57 374.98 52.57 379.42 51.8 383.3C51.03 387.18 50.27 390.95 49.7 395.4C49.13 399.85 48.6 405.9 48.4 410C48.2 414.1 48.13 415.38 48.5 420C48.87 424.62 49.75 432.48 50.6 437.7C51.45 442.92 53 448.7 53.6 451.3C54.2 453.9 54.1 452.97 54.2 453.3" fill="none" stroke="#505050" stroke-width="0.5"/>
<circle cx="57.72" cy="318.8" r="0.6" fill="#505050"/>
<circle cx="58.97" cy="331.72" r="0.6" fill="#505050"/>
<circle cx="58.7" cy="344.72" r="0.6" fill="#505050"/>
<circle cx="57.53" cy="357.66" r="0.6" fill="#505050"/>
<circle cx="54.83" cy="370.33" r="0.6" fill="#505050"/>
<circle cx="51.86" cy="382.98" r="0.6" fill="#505050"/>
<circle cx="49.65" cy="395.79" r="0.6" fill="#505050"/>
<circle cx="48.47" cy="408.74" r="0.6" fill="#505050"/>
<circle cx="48.65" cy="421.72" r="0.6" fill="#505050"/>
<circle cx="50.14" cy="434.63" r="0.6" fill="#505050"/>
<circle cx="52.65" cy="447.38" r="0.6" fill="#505050"/>
<path d="M71.6 313C72.33 314.17 74.02 317.17 76 320C77.98 322.83 81 326.92 83.5 330C86 333.08 88.75 335.73 91 338.5C93.25 341.27 95.12 344.02 97 346.6C98.88 349.18 101 351.6 102.3 354C103.6 356.4 104.52 358.92 104.8 361C105.08 363.08 104.72 365.13 104 366.5C103.28 367.87 102 368.88 100.5 369.2C99 369.52 96.92 369.02 95 368.4C93.08 367.78 90.83 366.48 89 365.5C87.17 364.52 85.83 363.08 84 362.5C82.17 361.92 80 361.75 78 362C76 362.25 73.58 362.48 72 364C70.42 365.52 69.77 368.57 68.5 371.1C67.23 373.63 65.58 376.33 64.4 379.2C63.22 382.07 62.15 384.75 61.4 388.3C60.65 391.85 60.07 395.55 59.9 400.5C59.73 405.45 60.05 412.75 60.4 418C60.75 423.25 61.07 427.83 62 432C62.93 436.17 64.5 440.08 66 443C67.5 445.92 69.33 447.78 71 449.5C72.67 451.22 75.17 452.67 76 453.3" fill="none" stroke="#505050" stroke-width="0.5"/>
<circle cx="74.74" cy="318.12" r="0.6" fill="#505050"/>
<circle cx="82.4" cy="328.61" r="0.6" fill="#505050"/>
<circle cx="90.93" cy="338.42" r="0.6" fill="#505050"/>
<circle cx="98.7" cy="348.84" r="0.6" fill="#505050"/>
<circle cx="104.67" cy="360.24" r="0.6" fill="#505050"/>
<circle cx="98.48" cy="369.23" r="0.6" fill="#505050"/>
<circle cx="86.71" cy="364" r="0.6" fill="#505050"/>
<circle cx="74.25" cy="362.71" r="0.6" fill="#505050"/>
<circle cx="67.38" cy="373.25" r="0.6" fill="#505050"/>
<circle cx="62.21" cy="385.15" r="0.6" fill="#505050"/>
<circle cx="60.03" cy="397.94" r="0.6" fill="#505050"/>
<circle cx="60.02" cy="410.93" r="0.6" fill="#505050"/>
<circle cx="60.84" cy="423.9" r="0.6" fill="#505050"/>
<circle cx="63.31" cy="436.63" r="0.6" fill="#505050"/>
<circle cx="69.52" cy="447.94" r="0.6" fill="#505050"/>
<path d="M85.3 313C86.65 314.35 90.7 318.4 93.4 321.1C96.1 323.8 99.07 326.22 101.5 329.2C103.93 332.18 106.17 335.77 108 339C109.83 342.23 111.3 345.42 112.5 348.6C113.7 351.78 114.33 354.83 115.2 358.1C116.07 361.37 117.12 364.83 117.7 368.2C118.28 371.57 118.95 375.43 118.7 378.3C118.45 381.17 117.63 383.73 116.2 385.4C114.77 387.07 112.13 387.78 110.1 388.3C108.07 388.82 106.18 388.8 104 388.5C101.82 388.2 98.8 387.2 97 386.5C95.2 385.8 94.65 385.48 93.2 384.3C91.75 383.12 90.13 380.92 88.3 379.4C86.47 377.88 84.23 375.9 82.2 375.2C80.17 374.5 77.92 374.7 76.1 375.2C74.28 375.7 72.57 376.57 71.3 378.2C70.03 379.83 69.25 382.47 68.5 385C67.75 387.53 67.33 390.15 66.8 393.4C66.27 396.65 65.6 400.4 65.3 404.5C65 408.6 64.63 413.75 65 418C65.37 422.25 66.33 426.33 67.5 430C68.67 433.67 70.25 437.17 72 440C73.75 442.83 76 444.78 78 447C80 449.22 83 452.25 84 453.3" fill="none" stroke="#505050" stroke-width="0.5"/>
<circle cx="89.54" cy="317.24" r="0.6" fill="#505050"/>
<circle cx="98.86" cy="326.31" r="0.6" fill="#505050"/>
<circle cx="106.64" cy="336.68" r="0.6" fill="#505050"/>
<circle cx="112.39" cy="348.32" r="0.6" fill="#505050"/>
<circle cx="115.94" cy="360.82" r="0.6" fill="#505050"/>
<circle cx="118.52" cy="373.54" r="0.6" fill="#505050"/>
<circle cx="115.79" cy="385.82" r="0.6" fill="#505050"/>
<circle cx="103.42" cy="388.41" r="0.6" fill="#505050"/>
<circle cx="91.85" cy="383" r="0.6" fill="#505050"/>
<circle cx="81.72" cy="375.05" r="0.6" fill="#505050"/>
<circle cx="70.48" cy="379.51" r="0.6" fill="#505050"/>
<circle cx="67.03" cy="391.99" r="0.6" fill="#505050"/>
<circle cx="65.27" cy="404.87" r="0.6" fill="#505050"/>
<circle cx="64.99" cy="417.85" r="0.6" fill="#505050"/>
<circle cx="67.68" cy="430.54" r="0.6" fill="#505050"/>
<circle cx="73.49" cy="442.1" r="0.6" fill="#505050"/>
<circle cx="82.36" cy="451.6" r="0.6" fill="#505050"/>
<path d="M96.7 313C98.58 314.88 105.03 320.8 108 324.3C110.97 327.8 112.75 330.55 114.5 334C116.25 337.45 117.5 342 118.5 345C119.5 348 119.87 349.48 120.5 352C121.13 354.52 121.75 357.07 122.3 360.1C122.85 363.13 123.47 366.82 123.8 370.2C124.13 373.58 124.22 377.02 124.3 380.4C124.38 383.78 124.38 387.23 124.3 390.5C124.22 393.77 124.05 396.75 123.8 400C123.55 403.25 123.05 407 122.8 410C122.55 413 122.68 415 122.3 418C121.92 421 121.38 424.83 120.5 428C119.62 431.17 118.58 434.08 117 437C115.42 439.92 113.17 442.78 111 445.5C108.83 448.22 105.17 452 104 453.3" fill="none" stroke="#505050" stroke-width="0.5"/>
<circle cx="101.03" cy="317.16" r="0.6" fill="#505050"/>
<circle cx="109.89" cy="326.64" r="0.6" fill="#505050"/>
<circle cx="116.18" cy="337.96" r="0.6" fill="#505050"/>
<circle cx="120.08" cy="350.36" r="0.6" fill="#505050"/>
<circle cx="122.82" cy="363.06" r="0.6" fill="#505050"/>
<circle cx="124.17" cy="375.98" r="0.6" fill="#505050"/>
<circle cx="124.33" cy="388.98" r="0.6" fill="#505050"/>
<circle cx="123.63" cy="401.96" r="0.6" fill="#505050"/>
<circle cx="122.56" cy="414.91" r="0.6" fill="#505050"/>
<circle cx="120.57" cy="427.74" r="0.6" fill="#505050"/>
<circle cx="115.42" cy="439.6" r="0.6" fill="#505050"/>
<circle cx="107.3" cy="449.74" r="0.6" fill="#505050"/>
<path d="M105.5 313C106.95 314.62 111.7 319.53 114.2 322.7C116.7 325.87 118.7 328.78 120.5 332C122.3 335.22 123.87 339 125 342C126.13 345 126.57 346.98 127.3 350C128.03 353.02 128.8 356.73 129.4 360.1C130 363.47 130.48 366.82 130.9 370.2C131.32 373.58 131.65 375.43 131.9 380.4C132.15 385.37 132.47 395.07 132.4 400C132.33 404.93 131.8 407 131.5 410C131.2 413 131.1 414.67 130.6 418C130.1 421.33 129.35 426.17 128.5 430C127.65 433.83 126.67 437.12 125.5 441C124.33 444.88 122.17 451.25 121.5 453.3" fill="none" stroke="#505050" stroke-width="0.5"/>
<circle cx="109.58" cy="317.4" r="0.6" fill="#505050"/>
<circle cx="117.73" cy="327.51" r="0.6" fill="#505050"/>
<circle cx="123.81" cy="338.97" r="0.6" fill="#505050"/>
<circle cx="127.63" cy="351.38" r="0.6" fill="#505050"/>
<circle cx="130.07" cy="364.14" r="0.6" fill="#505050"/>
<circle cx="131.68" cy="377.04" r="0.6" fill="#505050"/>
<circle cx="132.26" cy="390.03" r="0.6" fill="#505050"/>
<circle cx="132.29" cy="403.02" r="0.6" fill="#505050"/>
<circle cx="130.89" cy="415.94" r="0.6" fill="#505050"/>
<circle cx="128.76" cy="428.77" r="0.6" fill="#505050"/>
<circle cx="125.4" cy="441.32" r="0.6" fill="#505050"/>
<text transform="translate(48,383.8) scale(0.95,1.2)" font-family="Liberation Serif" font-size="8.6" fill="#111" stroke="#111" stroke-width="0.22">VL2</text>
<path d="M66.2 381.4L72.5 381.9" stroke="#111" stroke-width="0.9"/><path d="M74.3 382.1L71.2 380.4L71.2 383.4Z" fill="#111"/>
<text transform="translate(118.5,358) scale(0.95,1.2)" font-family="Liberation Serif" font-size="8.6" fill="#111" stroke="#111" stroke-width="0.22">VR2'</text>
<path d="M111.6 360L118 356.9" stroke="#111" stroke-width="0.9"/>
<path d="M113.5 313C114.97 314.62 119.75 319.47 122.3 322.7C124.85 325.93 126.92 328.62 128.8 332.4C130.68 336.18 132.17 341.63 133.6 345.4C135.03 349.17 136.45 351.73 137.4 355C138.35 358.27 138.78 361.67 139.3 365C139.82 368.33 140.22 371.67 140.5 375C140.78 378.33 140.83 380.83 141 385C141.17 389.17 141.58 395.83 141.5 400C141.42 404.17 140.92 407 140.5 410C140.08 413 139.63 413.38 139 418C138.37 422.62 137.47 432.4 136.7 437.7C135.93 443 134.88 447.2 134.4 449.8C133.92 452.4 133.9 452.72 133.8 453.3" fill="none" stroke="#505050" stroke-width="0.5"/>
<circle cx="117.61" cy="317.37" r="0.6" fill="#505050"/>
<circle cx="125.85" cy="327.41" r="0.6" fill="#505050"/>
<circle cx="131.43" cy="339.1" r="0.6" fill="#505050"/>
<circle cx="136.04" cy="351.24" r="0.6" fill="#505050"/>
<circle cx="139.12" cy="363.83" r="0.6" fill="#505050"/>
<circle cx="140.63" cy="376.74" r="0.6" fill="#505050"/>
<circle cx="141.22" cy="389.72" r="0.6" fill="#505050"/>
<circle cx="141.38" cy="402.71" r="0.6" fill="#505050"/>
<circle cx="139.39" cy="415.55" r="0.6" fill="#505050"/>
<circle cx="137.81" cy="428.45" r="0.6" fill="#505050"/>
<circle cx="136.11" cy="441.33" r="0.6" fill="#505050"/>
</g>
<circle cx="93.7" cy="418.4" r="26.1" fill="#fff" stroke="#454545" stroke-width="0.45"/>
<rect x="163.3" y="322.4" width="6.9" height="4.91" fill="rgb(220,0,0)"/>
<rect x="163.3" y="327.01" width="6.9" height="4.91" fill="rgb(255,80,0)"/>
<rect x="163.3" y="331.62" width="6.9" height="4.91" fill="rgb(255,170,0)"/>
<rect x="163.3" y="336.22" width="6.9" height="4.91" fill="rgb(255,235,0)"/>
<rect x="163.3" y="340.83" width="6.9" height="4.91" fill="rgb(175,240,20)"/>
<rect x="163.3" y="345.44" width="6.9" height="4.91" fill="rgb(90,240,20)"/>
<rect x="163.3" y="350.05" width="6.9" height="4.91" fill="rgb(0,240,60)"/>
<rect x="163.3" y="354.65" width="6.9" height="4.91" fill="rgb(0,235,125)"/>
<rect x="163.3" y="359.26" width="6.9" height="4.91" fill="rgb(0,240,190)"/>
<rect x="163.3" y="363.87" width="6.9" height="4.91" fill="rgb(0,240,255)"/>
<rect x="163.3" y="368.48" width="6.9" height="4.91" fill="rgb(0,170,255)"/>
<rect x="163.3" y="373.08" width="6.9" height="4.91" fill="rgb(0,90,240)"/>
<rect x="163.3" y="377.69" width="6.9" height="4.91" fill="rgb(0,0,220)"/>
<path d="M24.7 313.2V453.3H177.6" fill="none" stroke="#222" stroke-width="1.2"/>
<path d="M40.9 453.3v-3 M67.3 453.3v-3 M93.7 453.3v-3 M120.1 453.3v-3 M146.5 453.3v-3 M172.9 453.3v-3 M24.7 444.8h3 M24.7 418.4h3 M24.7 392h3 M24.7 365.6h3 M24.7 339.2h3 M24.7 313.6h3" stroke="#222" stroke-width="0.9"/>
<path d="M30.34 453.3v-1.6 M35.62 453.3v-1.6 M46.18 453.3v-1.6 M51.46 453.3v-1.6 M56.74 453.3v-1.6 M62.02 453.3v-1.6 M72.58 453.3v-1.6 M77.86 453.3v-1.6 M83.14 453.3v-1.6 M88.42 453.3v-1.6 M98.98 453.3v-1.6 M104.26 453.3v-1.6 M109.54 453.3v-1.6 M114.82 453.3v-1.6 M125.38 453.3v-1.6 M130.66 453.3v-1.6 M135.94 453.3v-1.6 M141.22 453.3v-1.6 M151.78 453.3v-1.6 M157.06 453.3v-1.6 M162.34 453.3v-1.6 M167.62 453.3v-1.6 M24.7 450.08h1.6 M24.7 439.52h1.6 M24.7 434.24h1.6 M24.7 428.96h1.6 M24.7 423.68h1.6 M24.7 413.12h1.6 M24.7 407.84h1.6 M24.7 402.56h1.6 M24.7 397.28h1.6 M24.7 386.72h1.6 M24.7 381.44h1.6 M24.7 376.16h1.6 M24.7 370.88h1.6 M24.7 360.32h1.6 M24.7 355.04h1.6 M24.7 349.76h1.6 M24.7 344.48h1.6 M24.7 333.92h1.6 M24.7 328.64h1.6 M24.7 323.36h1.6 M24.7 318.08h1.6" stroke="#222" stroke-width="0.7"/>
<g font-family="Liberation Serif" font-size="8.6" fill="#111" stroke="#111" stroke-width="0.15">
<text x="39.1" y="462" text-anchor="middle">-1</text>
<text x="65.5" y="462" text-anchor="middle">-0.5</text>
<text x="93.2" y="462" text-anchor="middle">0</text>
<text x="119.6" y="462" text-anchor="middle">0.5</text>
<text x="146" y="462" text-anchor="middle">1</text>
<text x="172.4" y="462" text-anchor="middle">1.5</text>
<text x="21.7" y="447.8" text-anchor="end">-0.5</text>
<text x="21.7" y="421.4" text-anchor="end">0</text>
<text x="21.7" y="395" text-anchor="end">0.5</text>
<text x="21.7" y="368.6" text-anchor="end">1</text>
<text x="21.7" y="342.2" text-anchor="end">1.5</text>
<text x="21.7" y="315.8" text-anchor="end">2</text>
<text x="95.7" y="470" font-style="italic">y/D</text>
<text transform="translate(8.2,394) rotate(-90)" font-style="italic">z/D</text>
<text x="30.2" y="322.7" font-style="italic">x/D</text>
<text x="43.2" y="322.7">=8</text>
<text x="174.3" y="320.4" text-anchor="end"><tspan font-style="italic">&#969;</tspan><tspan dx="1.6">*</tspan><tspan dx="0.6">:11.4</tspan></text>
<text x="174.3" y="391" text-anchor="end">-11.4</text>
</g>
<clipPath id="clip202"><rect x="202.2" y="313.2" width="152.9" height="140.1"/></clipPath>
<rect x="202.2" y="313.2" width="152.9" height="140.1" fill="#00ff32"/>
<g clip-path="url(#clip202)">
<path d="M209.5 322C208.25 314.77 219.43 314.77 226.3 322C233.17 329.23 249.45 358.17 250.7 365.4C251.95 372.63 240.67 372.63 233.8 365.4C226.93 358.17 210.75 329.23 209.5 322Z" fill="#28fa16" />
<path d="M245 313.2C254.3 309.9 294.6 310.8 305.8 313.2C317 315.6 310.32 322.78 312.2 327.6C314.08 332.42 315.88 336.98 317.1 342.1C318.32 347.22 318.82 352.35 319.5 358.3C320.18 364.25 320.92 372.02 321.2 377.8C321.48 383.58 321.4 387.63 321.2 393C321 398.37 320.7 403.83 320 410C319.3 416.17 318.17 422.78 317 430C315.83 437.22 316.5 449.42 313 453.3C309.5 457.18 298.17 455.52 296 453.3C293.83 451.08 299 445.55 300 440C301 434.45 301.67 426.67 302 420C302.33 413.33 303 405 302 400C301 395 298.83 392.33 296 390C293.17 387.67 287.33 389 285 386C282.67 383 284.17 375.67 282 372C279.83 368.33 275.33 365.67 272 364C268.67 362.33 265.67 361.67 262 362C258.33 362.33 251 368 250 366C249 364 256 355.5 256 350C256 344.5 251.83 339.13 250 333C248.17 326.87 235.7 316.5 245 313.2Z" fill="#28fa16" />
<path d="M330 313.2C334 308.73 351.67 289.85 356 313.2C360.33 336.55 363.67 429.95 356 453.3C348.33 476.65 316.33 455.52 310 453.3C303.67 451.08 316 444.72 318 440C320 435.28 320.67 430 322 425C323.33 420 324.5 415 326 410C327.5 405 329.83 401.67 331 395C332.17 388.33 332.83 379.17 333 370C333.17 360.83 332.5 349.47 332 340C331.5 330.53 326 317.67 330 313.2Z" fill="#28fa16" />
<path d="M202.6 358C203.77 355.67 213.93 355.83 218 358C222.07 360.17 226.17 367.33 227 371C227.83 374.67 225.67 379.83 223 380C220.33 380.17 214.4 375.67 211 372C207.6 368.33 201.43 360.33 202.6 358Z" fill="#28fa16" />
<path d="M202 416H243M202 422H243" stroke="#28fa16" stroke-width="1.6"/>
<path d="M298 416H356M298 422H356" stroke="#00ff32" stroke-width="1.6"/>
<path d="M276 345C277 342.17 279.67 339 282 338C284.33 337 287.5 337.83 290 339C292.5 340.17 295.17 342.67 297 345C298.83 347.33 300.08 349.67 301 353C301.92 356.33 302.25 360.5 302.5 365C302.75 369.5 302.75 375.17 302.5 380C302.25 384.83 301.92 392 301 394C300.08 396 298.83 393.33 297 392C295.17 390.67 292.33 388.33 290 386C287.67 383.67 285 381.33 283 378C281 374.67 279.17 369.83 278 366C276.83 362.17 276.33 358.5 276 355C275.67 351.5 275 347.83 276 345Z" fill="#82f01c" />
<path d="M278.5 341.5C279.5 340.25 282.08 340.25 284 340.5C285.92 340.75 288 341.58 290 343C292 344.42 294.42 346.67 296 349C297.58 351.33 298.83 353.83 299.5 357C300.17 360.17 300 364.5 300 368C300 371.5 300.17 375.75 299.5 378C298.83 380.25 297.5 381.17 296 381.5C294.5 381.83 292.33 381.25 290.5 380C288.67 378.75 286.58 376.33 285 374C283.42 371.67 282 368.83 281 366C280 363.17 279.5 360 279 357C278.5 354 278.08 350.58 278 348C277.92 345.42 277.5 342.75 278.5 341.5Z" fill="#bef52d" />
<path d="M242.5 414C241.42 412 242.92 406 243.5 402C244.08 398 244.92 393.83 246 390C247.08 386.17 248.33 382.17 250 379C251.67 375.83 253.67 372.92 256 371C258.33 369.08 261.33 368 264 367.5C266.67 367 269.5 367.25 272 368C274.5 368.75 277.08 370.33 279 372C280.92 373.67 282.25 375.83 283.5 378C284.75 380.17 285.92 382.5 286.5 385C287.08 387.5 288.92 390.5 287 393C285.08 395.5 281.17 396.5 275 400C268.83 403.5 255.42 411.67 250 414C244.58 416.33 243.58 416 242.5 414Z" fill="#00e68c" />
<path d="M246 412C245.17 410.33 246.42 405.5 247 402C247.58 398.5 248.5 394.33 249.5 391C250.5 387.67 251.58 384.63 253 382C254.42 379.37 256.08 376.78 258 375.2C259.92 373.62 262.42 372.78 264.5 372.5C266.58 372.22 268.67 372.75 270.5 373.5C272.33 374.25 274.17 375.42 275.5 377C276.83 378.58 277.83 380.83 278.5 383C279.17 385.17 280.58 387.5 279.5 390C278.42 392.5 276.58 394.33 272 398C267.42 401.67 256.33 409.67 252 412C247.67 414.33 246.83 413.67 246 412Z" fill="#00f0f0" />
<path d="M244.3 413C243.93 411.67 244.55 407.67 245 405C245.45 402.33 246.17 399.5 247 397C247.83 394.5 248.92 392.08 250 390C251.08 387.92 252.5 385.67 253.5 384.5C254.5 383.33 255.67 382.67 256 383C256.33 383.33 256.08 385 255.5 386.5C254.92 388 253.45 389.92 252.5 392C251.55 394.08 250.55 396.67 249.8 399C249.05 401.33 248.43 403.67 248 406C247.57 408.33 247.82 411.83 247.2 413C246.58 414.17 244.67 414.33 244.3 413Z" fill="#0096ff" />
<path d="M244.8 412C244.63 410.67 245.13 406.5 245.6 404C246.07 401.5 246.82 399.13 247.6 397C248.38 394.87 249.53 392.33 250.3 391.2C251.07 390.07 252.12 389.57 252.2 390.2C252.28 390.83 251.37 393.2 250.8 395C250.23 396.8 249.35 399 248.8 401C248.25 403 247.87 405.17 247.5 407C247.13 408.83 247.05 411.17 246.6 412C246.15 412.83 244.97 413.33 244.8 412Z" fill="#0000d2" />
<path d="M256 394C255.05 392.5 256.05 389 256.3 387C256.55 385 256.8 383.42 257.5 382C258.2 380.58 259.2 379.33 260.5 378.5C261.8 377.67 263.72 377.08 265.3 377C266.88 376.92 268.63 377.33 270 378C271.37 378.67 272.6 379.67 273.5 381C274.4 382.33 275.05 384.17 275.4 386C275.75 387.83 276.17 390.42 275.6 392C275.03 393.58 274.27 394.83 272 395.5C269.73 396.17 264.67 396.25 262 396C259.33 395.75 256.95 395.5 256 394Z" fill="#080808" />
<circle cx="257.5" cy="392.5" r="1.3" fill="#3a5a4a" opacity="0.7"/>
<circle cx="259" cy="394.5" r="1.3" fill="#3a5a4a" opacity="0.7"/>
<circle cx="274" cy="391" r="1.3" fill="#3a5a4a" opacity="0.7"/>
<circle cx="275.5" cy="393.5" r="1.3" fill="#3a5a4a" opacity="0.7"/>
<circle cx="258" cy="389.5" r="1.3" fill="#3a5a4a" opacity="0.7"/>
<path d="M301.3 379C301.77 379.42 302.43 381.83 302.6 384C302.77 386.17 302.6 389.33 302.3 392C302 394.67 301.3 397.17 300.8 400C300.3 402.83 299.8 406.33 299.3 409C298.8 411.67 298.22 415.83 297.8 416C297.38 416.17 296.9 413 296.8 410C296.7 407 296.93 401.67 297.2 398C297.47 394.33 297.97 390.75 298.4 388C298.83 385.25 299.32 383 299.8 381.5C300.28 380 300.83 378.58 301.3 379Z" fill="#ffe600" />
<path d="M300.6 391C301.13 390.67 301.3 394.25 301.2 396.5C301.1 398.75 300.42 401.83 300 404.5C299.58 407.17 299.13 410.5 298.7 412.5C298.27 414.5 297.67 417.25 297.4 416.5C297.13 415.75 297 411 297.1 408C297.2 405 297.42 401.33 298 398.5C298.58 395.67 300.07 391.33 300.6 391Z" fill="#ff8c00" />
<path d="M300.1 397.5C300.55 397.42 300.77 399.67 300.7 401.5C300.63 403.33 300.07 406.33 299.7 408.5C299.33 410.67 298.9 413 298.5 414.5C298.1 416 297.55 418.25 297.3 417.5C297.05 416.75 296.88 412.58 297 410C297.12 407.42 297.48 404.08 298 402C298.52 399.92 299.65 397.58 300.1 397.5Z" fill="#dc0000" />
<path d="M249 313C249.53 314.62 251.93 319.2 252.2 322.7C252.47 326.2 251.68 330.22 250.6 334C249.52 337.78 247.6 341.62 245.7 345.4C243.8 349.18 241.08 352.92 239.2 356.7C237.32 360.48 235.85 364.05 234.4 368.1C232.95 372.15 231.65 376.52 230.5 381C229.35 385.48 228.2 390.08 227.5 395C226.8 399.92 226.3 405.5 226.3 410.5C226.3 415.5 226.72 420.42 227.5 425C228.28 429.58 229.5 433.28 231 438C232.5 442.72 235.58 450.75 236.5 453.3" fill="none" stroke="#505050" stroke-width="0.5"/>
<circle cx="251.22" cy="318.57" r="0.6" fill="#505050"/>
<circle cx="251.29" cy="331.37" r="0.6" fill="#505050"/>
<circle cx="246.66" cy="343.48" r="0.6" fill="#505050"/>
<circle cx="240.23" cy="354.77" r="0.6" fill="#505050"/>
<circle cx="234.94" cy="366.63" r="0.6" fill="#505050"/>
<circle cx="231.02" cy="379.02" r="0.6" fill="#505050"/>
<circle cx="228.05" cy="391.67" r="0.6" fill="#505050"/>
<circle cx="226.5" cy="404.57" r="0.6" fill="#505050"/>
<circle cx="226.58" cy="417.56" r="0.6" fill="#505050"/>
<circle cx="228.68" cy="430.37" r="0.6" fill="#505050"/>
<circle cx="232.62" cy="442.76" r="0.6" fill="#505050"/>
<path d="M260.3 313C261.12 314.62 264.25 319.2 265.2 322.7C266.15 326.2 266.55 330.77 266 334C265.45 337.23 263.93 339.12 261.9 342.1C259.87 345.08 256.5 348.92 253.8 351.9C251.1 354.88 248.13 356.77 245.7 360C243.27 363.23 240.98 367.53 239.2 371.3C237.42 375.07 236.2 378.65 235 382.6C233.8 386.55 232.63 390.35 232 395C231.37 399.65 231.12 405.5 231.2 410.5C231.28 415.5 231.53 420.42 232.5 425C233.47 429.58 234.95 433.28 237 438C239.05 442.72 243.5 450.75 244.8 453.3" fill="none" stroke="#505050" stroke-width="0.5"/>
<circle cx="263.28" cy="318.21" r="0.6" fill="#505050"/>
<circle cx="266.25" cy="330.71" r="0.6" fill="#505050"/>
<circle cx="261.59" cy="342.54" r="0.6" fill="#505050"/>
<circle cx="253.24" cy="352.49" r="0.6" fill="#505050"/>
<circle cx="244.36" cy="361.92" r="0.6" fill="#505050"/>
<circle cx="238.26" cy="373.38" r="0.6" fill="#505050"/>
<circle cx="234.08" cy="385.68" r="0.6" fill="#505050"/>
<circle cx="231.62" cy="398.42" r="0.6" fill="#505050"/>
<circle cx="231.22" cy="411.41" r="0.6" fill="#505050"/>
<circle cx="232.37" cy="424.34" r="0.6" fill="#505050"/>
<circle cx="236.42" cy="436.67" r="0.6" fill="#505050"/>
<circle cx="242.17" cy="448.33" r="0.6" fill="#505050"/>
<path d="M271.6 313C272.17 314.08 273.43 317.17 275 319.5C276.57 321.83 279.25 324.25 281 327C282.75 329.75 284.33 332.93 285.5 336C286.67 339.07 287.78 342.57 288 345.4C288.22 348.23 287.88 351.03 286.8 353C285.72 354.97 283.48 356.62 281.5 357.2C279.52 357.78 277.9 356.53 274.9 356.5C271.9 356.47 267.28 355.88 263.5 357C259.72 358.12 255.25 360.28 252.2 363.2C249.15 366.12 247.3 369.7 245.2 374.5C243.1 379.3 241.13 386 239.6 392C238.07 398 236.35 405 236 410.5C235.65 416 236.33 420.42 237.5 425C238.67 429.58 240.58 433.28 243 438C245.42 442.72 250.5 450.75 252 453.3" fill="none" stroke="#505050" stroke-width="0.5"/>
<circle cx="274.29" cy="318.36" r="0.6" fill="#505050"/>
<circle cx="282.06" cy="328.75" r="0.6" fill="#505050"/>
<circle cx="287.08" cy="340.71" r="0.6" fill="#505050"/>
<circle cx="286.59" cy="353.35" r="0.6" fill="#505050"/>
<circle cx="275.09" cy="356.51" r="0.6" fill="#505050"/>
<circle cx="262.22" cy="357.41" r="0.6" fill="#505050"/>
<circle cx="251.26" cy="364.16" r="0.6" fill="#505050"/>
<circle cx="244.83" cy="375.38" r="0.6" fill="#505050"/>
<circle cx="240.74" cy="387.72" r="0.6" fill="#505050"/>
<circle cx="237.59" cy="400.33" r="0.6" fill="#505050"/>
<circle cx="235.91" cy="413.19" r="0.6" fill="#505050"/>
<circle cx="237.78" cy="426.02" r="0.6" fill="#505050"/>
<circle cx="242.96" cy="437.91" r="0.6" fill="#505050"/>
<circle cx="249.48" cy="449.16" r="0.6" fill="#505050"/>
<path d="M299 385C298.15 384.53 295.77 383.07 293.9 382.2C292.03 381.33 289.83 380.82 287.8 379.8C285.77 378.78 284 377.4 281.7 376.1C279.4 374.8 277.3 373.07 274 372C270.7 370.93 265.27 368.73 261.9 369.7C258.53 370.67 256.28 374.08 253.8 377.8C251.32 381.52 249.33 386.55 247 392C244.67 397.45 240.72 405 239.8 410.5C238.88 416 240.05 420.42 241.5 425C242.95 429.58 245.72 433.28 248.5 438C251.28 442.72 256.58 450.75 258.2 453.3" fill="none" stroke="#505050" stroke-width="0.5"/>
<circle cx="293.74" cy="382.13" r="0.6" fill="#505050"/>
<circle cx="282.15" cy="376.36" r="0.6" fill="#505050"/>
<circle cx="270.46" cy="370.82" r="0.6" fill="#505050"/>
<circle cx="258.31" cy="371.91" r="0.6" fill="#505050"/>
<circle cx="251.09" cy="382.66" r="0.6" fill="#505050"/>
<circle cx="245.86" cy="394.56" r="0.6" fill="#505050"/>
<circle cx="240.83" cy="406.54" r="0.6" fill="#505050"/>
<circle cx="239.98" cy="419.35" r="0.6" fill="#505050"/>
<circle cx="244.51" cy="431.47" r="0.6" fill="#505050"/>
<circle cx="251.3" cy="442.56" r="0.6" fill="#505050"/>
<path d="M250.5 386C249.72 388 247.05 393.92 245.8 398C244.55 402.08 243.22 406 243 410.5C242.78 415 242.83 420.42 244.5 425C246.17 429.58 249.52 433.28 253 438C256.48 442.72 263.33 450.75 265.4 453.3" fill="none" stroke="#505050" stroke-width="0.5"/>
<circle cx="248.19" cy="391.54" r="0.6" fill="#505050"/>
<circle cx="244.07" cy="403.86" r="0.6" fill="#505050"/>
<circle cx="242.98" cy="416.76" r="0.6" fill="#505050"/>
<circle cx="246.52" cy="429.11" r="0.6" fill="#505050"/>
<circle cx="254.21" cy="439.59" r="0.6" fill="#505050"/>
<circle cx="262.4" cy="449.68" r="0.6" fill="#505050"/>
<path d="M281.5 313C282.85 315.7 287.18 323.8 289.6 329.2C292.02 334.6 294.47 340 296 345.4C297.53 350.8 298 356.2 298.8 361.6C299.6 367 300.23 373.07 300.8 377.8C301.37 382.53 302.08 385.97 302.2 390C302.32 394.03 301.82 398.33 301.5 402C301.18 405.67 300.67 409.17 300.3 412C299.93 414.83 299.85 416 299.3 419C298.75 422 298.38 426.17 297 430C295.62 433.83 293.87 438.12 291 442C288.13 445.88 281.67 451.42 279.8 453.3" fill="none" stroke="#505050" stroke-width="0.5"/>
<circle cx="284.25" cy="318.33" r="0.6" fill="#505050"/>
<circle cx="289.96" cy="330.01" r="0.6" fill="#505050"/>
<circle cx="294.93" cy="342.02" r="0.6" fill="#505050"/>
<circle cx="297.84" cy="354.66" r="0.6" fill="#505050"/>
<circle cx="299.6" cy="367.54" r="0.6" fill="#505050"/>
<circle cx="301.15" cy="380.45" r="0.6" fill="#505050"/>
<circle cx="302.17" cy="393.39" r="0.6" fill="#505050"/>
<circle cx="301.04" cy="406.33" r="0.6" fill="#505050"/>
<circle cx="299.26" cy="419.21" r="0.6" fill="#505050"/>
<circle cx="296.32" cy="431.84" r="0.6" fill="#505050"/>
<circle cx="290.07" cy="443.17" r="0.6" fill="#505050"/>
<circle cx="280.84" cy="452.31" r="0.6" fill="#505050"/>
<path d="M291.2 313C292.28 315.17 295.95 321.42 297.7 326C299.45 330.58 300.77 335.65 301.7 340.5C302.63 345.35 302.87 348.88 303.3 355.1C303.73 361.32 304.1 371.48 304.3 377.8C304.5 384.12 304.38 388.47 304.5 393C304.62 397.53 304.38 400.73 305 405C305.62 409.27 308.12 414.43 308.2 418.6C308.28 422.77 307.03 426.1 305.5 430C303.97 433.9 302.08 438.12 299 442C295.92 445.88 289 451.42 287 453.3" fill="none" stroke="#505050" stroke-width="0.5"/>
<circle cx="294.04" cy="318.29" r="0.6" fill="#505050"/>
<circle cx="299.15" cy="330.21" r="0.6" fill="#505050"/>
<circle cx="302.12" cy="342.86" r="0.6" fill="#505050"/>
<circle cx="303.35" cy="355.8" r="0.6" fill="#505050"/>
<circle cx="303.98" cy="368.78" r="0.6" fill="#505050"/>
<circle cx="304.39" cy="381.77" r="0.6" fill="#505050"/>
<circle cx="304.53" cy="394.77" r="0.6" fill="#505050"/>
<circle cx="305.58" cy="407.69" r="0.6" fill="#505050"/>
<circle cx="308.15" cy="420.35" r="0.6" fill="#505050"/>
<circle cx="304.38" cy="432.72" r="0.6" fill="#505050"/>
<circle cx="297.52" cy="443.69" r="0.6" fill="#505050"/>
<circle cx="287.93" cy="452.46" r="0.6" fill="#505050"/>
<path d="M297.7 313C298.77 315.17 302.35 321.42 304.1 326C305.85 330.58 307.12 335.65 308.2 340.5C309.28 345.35 310.07 348.88 310.6 355.1C311.13 361.32 311.23 371.48 311.4 377.8C311.57 384.12 311.5 388.47 311.6 393C311.7 397.53 311.85 400.73 312 405C312.15 409.27 312.75 414.43 312.5 418.6C312.25 422.77 311.75 426.1 310.5 430C309.25 433.9 307.55 438.12 305 442C302.45 445.88 296.83 451.42 295.2 453.3" fill="none" stroke="#505050" stroke-width="0.5"/>
<circle cx="300.49" cy="318.31" r="0.6" fill="#505050"/>
<circle cx="305.56" cy="330.26" r="0.6" fill="#505050"/>
<circle cx="308.72" cy="342.86" r="0.6" fill="#505050"/>
<circle cx="310.65" cy="355.71" r="0.6" fill="#505050"/>
<circle cx="311.2" cy="368.7" r="0.6" fill="#505050"/>
<circle cx="311.48" cy="381.69" r="0.6" fill="#505050"/>
<circle cx="311.64" cy="394.69" r="0.6" fill="#505050"/>
<circle cx="312.14" cy="407.68" r="0.6" fill="#505050"/>
<circle cx="312.35" cy="420.66" r="0.6" fill="#505050"/>
<circle cx="309.36" cy="433.27" r="0.6" fill="#505050"/>
<circle cx="303.08" cy="444.58" r="0.6" fill="#505050"/>
<path d="M305.8 313C306.87 315.43 310.32 322.75 312.2 327.6C314.08 332.45 315.88 336.98 317.1 342.1C318.32 347.22 318.82 352.35 319.5 358.3C320.18 364.25 320.92 372.02 321.2 377.8C321.48 383.58 321.48 386.2 321.2 393C320.92 399.8 320.03 412.1 319.5 418.6C318.97 425.1 319 427.77 318 432C317 436.23 315.4 440.45 313.5 444C311.6 447.55 307.75 451.75 306.6 453.3" fill="none" stroke="#505050" stroke-width="0.5"/>
<circle cx="308.27" cy="318.47" r="0.6" fill="#505050"/>
<circle cx="313.3" cy="330.45" r="0.6" fill="#505050"/>
<circle cx="317.26" cy="342.82" r="0.6" fill="#505050"/>
<circle cx="319.2" cy="355.67" r="0.6" fill="#505050"/>
<circle cx="320.54" cy="368.6" r="0.6" fill="#505050"/>
<circle cx="321.36" cy="381.57" r="0.6" fill="#505050"/>
<circle cx="321.13" cy="394.56" r="0.6" fill="#505050"/>
<circle cx="320.33" cy="407.54" r="0.6" fill="#505050"/>
<circle cx="319.35" cy="420.5" r="0.6" fill="#505050"/>
<circle cx="317.65" cy="433.37" r="0.6" fill="#505050"/>
<circle cx="312.71" cy="445.34" r="0.6" fill="#505050"/>
<text transform="translate(239.8,375.3) scale(0.95,1.2)" font-family="Liberation Serif" font-size="8.6" fill="#111" stroke="#111" stroke-width="0.22">VL2</text>
<path d="M256.3 372.1L262 375.6" stroke="#111" stroke-width="0.9"/>
<text transform="translate(307.2,356.2) scale(0.95,1.2)" font-family="Liberation Serif" font-size="8.6" fill="#111" stroke="#111" stroke-width="0.22">VR2</text>
<path d="M299.3 354.6L306.4 351.2" stroke="#111" stroke-width="0.9"/>
</g>
<circle cx="271.2" cy="418.4" r="26.1" fill="#fff" stroke="#454545" stroke-width="0.45"/>
<rect x="340.8" y="322.4" width="6.9" height="4.91" fill="rgb(220,0,0)"/>
<rect x="340.8" y="327.01" width="6.9" height="4.91" fill="rgb(255,80,0)"/>
<rect x="340.8" y="331.62" width="6.9" height="4.91" fill="rgb(255,170,0)"/>
<rect x="340.8" y="336.22" width="6.9" height="4.91" fill="rgb(255,235,0)"/>
<rect x="340.8" y="340.83" width="6.9" height="4.91" fill="rgb(175,240,20)"/>
<rect x="340.8" y="345.44" width="6.9" height="4.91" fill="rgb(90,240,20)"/>
<rect x="340.8" y="350.05" width="6.9" height="4.91" fill="rgb(0,240,60)"/>
<rect x="340.8" y="354.65" width="6.9" height="4.91" fill="rgb(0,235,125)"/>
<rect x="340.8" y="359.26" width="6.9" height="4.91" fill="rgb(0,240,190)"/>
<rect x="340.8" y="363.87" width="6.9" height="4.91" fill="rgb(0,240,255)"/>
<rect x="340.8" y="368.48" width="6.9" height="4.91" fill="rgb(0,170,255)"/>
<rect x="340.8" y="373.08" width="6.9" height="4.91" fill="rgb(0,90,240)"/>
<rect x="340.8" y="377.69" width="6.9" height="4.91" fill="rgb(0,0,220)"/>
<path d="M202.2 313.2V453.3H355.1" fill="none" stroke="#222" stroke-width="1.2"/>
<path d="M218.4 453.3v-3 M244.8 453.3v-3 M271.2 453.3v-3 M297.6 453.3v-3 M324 453.3v-3 M350.4 453.3v-3 M202.2 444.8h3 M202.2 418.4h3 M202.2 392h3 M202.2 365.6h3 M202.2 339.2h3 M202.2 313.6h3" stroke="#222" stroke-width="0.9"/>
<path d="M207.84 453.3v-1.6 M213.12 453.3v-1.6 M223.68 453.3v-1.6 M228.96 453.3v-1.6 M234.24 453.3v-1.6 M239.52 453.3v-1.6 M250.08 453.3v-1.6 M255.36 453.3v-1.6 M260.64 453.3v-1.6 M265.92 453.3v-1.6 M276.48 453.3v-1.6 M281.76 453.3v-1.6 M287.04 453.3v-1.6 M292.32 453.3v-1.6 M302.88 453.3v-1.6 M308.16 453.3v-1.6 M313.44 453.3v-1.6 M318.72 453.3v-1.6 M329.28 453.3v-1.6 M334.56 453.3v-1.6 M339.84 453.3v-1.6 M345.12 453.3v-1.6 M202.2 450.08h1.6 M202.2 439.52h1.6 M202.2 434.24h1.6 M202.2 428.96h1.6 M202.2 423.68h1.6 M202.2 413.12h1.6 M202.2 407.84h1.6 M202.2 402.56h1.6 M202.2 397.28h1.6 M202.2 386.72h1.6 M202.2 381.44h1.6 M202.2 376.16h1.6 M202.2 370.88h1.6 M202.2 360.32h1.6 M202.2 355.04h1.6 M202.2 349.76h1.6 M202.2 344.48h1.6 M202.2 333.92h1.6 M202.2 328.64h1.6 M202.2 323.36h1.6 M202.2 318.08h1.6" stroke="#222" stroke-width="0.7"/>
<g font-family="Liberation Serif" font-size="8.6" fill="#111" stroke="#111" stroke-width="0.15">
<text x="216.6" y="462" text-anchor="middle">-1</text>
<text x="243" y="462" text-anchor="middle">-0.5</text>
<text x="270.7" y="462" text-anchor="middle">0</text>
<text x="297.1" y="462" text-anchor="middle">0.5</text>
<text x="323.5" y="462" text-anchor="middle">1</text>
<text x="349.9" y="462" text-anchor="middle">1.5</text>
<text x="199.2" y="447.8" text-anchor="end">-0.5</text>
<text x="199.2" y="421.4" text-anchor="end">0</text>
<text x="199.2" y="395" text-anchor="end">0.5</text>
<text x="199.2" y="368.6" text-anchor="end">1</text>
<text x="199.2" y="342.2" text-anchor="end">1.5</text>
<text x="199.2" y="315.8" text-anchor="end">2</text>
<text x="273.2" y="470" font-style="italic">y/D</text>
<text transform="translate(185.7,394) rotate(-90)" font-style="italic">z/D</text>
<text x="207.7" y="322.7" font-style="italic">x/D</text>
<text x="220.7" y="322.7">=8.5</text>
<text x="351.8" y="320.4" text-anchor="end"><tspan font-style="italic">&#969;</tspan><tspan dx="1.6">*</tspan><tspan dx="0.6">:11.4</tspan></text>
<text x="351.8" y="391" text-anchor="end">-11.4</text>
</g>
<clipPath id="clip379"><rect x="379.1" y="313.2" width="152.9" height="140.1"/></clipPath>
<rect x="379.1" y="313.2" width="152.9" height="140.1" fill="#00ff32"/>
<g clip-path="url(#clip379)">
<path d="M384.1 325.2C384.1 317.03 392.88 317.03 397.6 325.2C402.32 333.37 412.4 366.03 412.4 374.2C412.4 382.37 402.32 382.37 397.6 374.2C392.88 366.03 384.1 333.37 384.1 325.2Z" fill="#28fa16" />
<path d="M400.1 313.2C398.77 309.03 403.77 309.03 408.1 313.2C412.43 317.37 424.77 334.03 426.1 338.2C427.43 342.37 420.43 342.37 416.1 338.2C411.77 334.03 401.43 317.37 400.1 313.2Z" fill="#28fa16" />
<path d="M419.8 313.2C427.47 309.07 464.3 310.4 474 313.2C483.7 316 477.17 323.87 478 330C478.83 336.13 480.33 345.67 479 350C477.67 354.33 474.5 355.67 470 356C465.5 356.33 457.67 353.33 452 352C446.33 350.67 440 350.33 436 348C432 345.67 430.7 343.8 428 338C425.3 332.2 412.13 317.33 419.8 313.2Z" fill="#28fa16" />
<path d="M502 313.2C507.08 308.73 527.83 289.85 533 313.2C538.17 336.55 540.67 429.95 533 453.3C525.33 476.65 493.67 455.52 487 453.3C480.33 451.08 491.33 444.72 493 440C494.67 435.28 495.83 430 497 425C498.17 420 499 415 500 410C501 405 502.42 401.67 503 395C503.58 388.33 503.58 379.17 503.5 370C503.42 360.83 502.75 349.47 502.5 340C502.25 330.53 496.92 317.67 502 313.2Z" fill="#28fa16" />
<path d="M379 416H421M379 422H421" stroke="#28fa16" stroke-width="1.6"/>
<path d="M474 416H533M474 422H533" stroke="#00ff32" stroke-width="1.6"/>
<path d="M470 368C470.67 360.33 473 355 475 352C477 349 480.33 347.83 482 350C483.67 352.17 484.67 357.5 485 365C485.33 372.5 484.83 387.17 484 395C483.17 402.83 481.67 408.83 480 412C478.33 415.17 475.5 416.33 474 414C472.5 411.67 471.67 405.67 471 398C470.33 390.33 469.33 375.67 470 368Z" fill="#64f01e" />
<path d="M434 341C436.67 339.08 442.5 338.58 446 338.5C449.5 338.42 452.83 339.25 455 340.5C457.17 341.75 458.67 343.58 459 346C459.33 348.42 459.17 353.08 457 355C454.83 356.92 449.5 357.33 446 357.5C442.5 357.67 438.67 357.25 436 356C433.33 354.75 430.33 352.5 430 350C429.67 347.5 431.33 342.92 434 341Z" fill="#00f064" />
<path d="M415 316C415.5 314.33 418.33 313.67 420 316C421.67 318.33 424.67 326.67 425 330C425.33 333.33 423.33 336.67 422 336C420.67 335.33 418.17 329.33 417 326C415.83 322.67 414.5 317.67 415 316Z" fill="#10f05a" />
<path d="M421 412C419.97 410 421.22 404 421.8 400C422.38 396 423.38 392 424.5 388C425.62 384 426.92 379.42 428.5 376C430.08 372.58 431.92 369.75 434 367.5C436.08 365.25 438.42 363.5 441 362.5C443.58 361.5 446.67 361.42 449.5 361.5C452.33 361.58 455.58 361.92 458 363C460.42 364.08 462.5 365.83 464 368C465.5 370.17 466.47 373 467 376C467.53 379 467.53 383.08 467.2 386C466.87 388.92 467.03 391.5 465 393.5C462.97 395.5 459.17 396.25 455 398C450.83 399.75 444.5 401.67 440 404C435.5 406.33 431.17 410.67 428 412C424.83 413.33 422.03 414 421 412Z" fill="#00dc9a" />
<path d="M422.8 410C421.4 408.33 423.03 403.5 423.6 400C424.17 396.5 425.13 392.5 426.2 389C427.27 385.5 428.53 382 430 379C431.47 376 433.08 373.25 435 371C436.92 368.75 439.08 366.63 441.5 365.5C443.92 364.37 446.83 364.2 449.5 364.2C452.17 364.2 455.33 364.37 457.5 365.5C459.67 366.63 461.25 368.75 462.5 371C463.75 373.25 464.58 376.17 465 379C465.42 381.83 465.5 385.33 465 388C464.5 390.67 464.5 393.33 462 395C459.5 396.67 455 395.5 450 398C445 400.5 436.53 408 432 410C427.47 412 424.2 411.67 422.8 410Z" fill="#10d4a0" />
<path d="M421.8 411C421.6 409.33 421.93 405 422.4 402C422.87 399 423.58 396.08 424.6 393C425.62 389.92 427.02 386.58 428.5 383.5C429.98 380.42 432.33 375.83 433.5 374.5C434.67 373.17 435.83 373.75 435.5 375.5C435.17 377.25 432.78 381.75 431.5 385C430.22 388.25 428.88 391.83 427.8 395C426.72 398.17 425.7 401.17 425 404C424.3 406.83 424.13 410.83 423.6 412C423.07 413.17 422 412.67 421.8 411Z" fill="#0096ff" />
<path d="M422.1 409C422.02 407.58 422.45 403.67 423 401C423.55 398.33 424.4 395.67 425.4 393C426.4 390.33 427.8 387.33 429 385C430.2 382.67 432.17 378.83 432.6 379C433.03 379.17 432.37 383.33 431.6 386C430.83 388.67 429.05 392.25 428 395C426.95 397.75 426.05 400.08 425.3 402.5C424.55 404.92 424.03 408.42 423.5 409.5C422.97 410.58 422.18 410.42 422.1 409Z" fill="#0008d0" />
<ellipse cx="449" cy="379" rx="16" ry="15.2" fill="#14d49c"/>
<ellipse cx="448.5" cy="379" rx="15" ry="14.2" fill="url(#vg)"/>
<ellipse cx="448.8" cy="379" rx="5.5" ry="5.2" fill="none" stroke="#2a4a3a" stroke-width="0.4" opacity="0.45"/>
<ellipse cx="448.8" cy="379" rx="8.5" ry="8.0" fill="none" stroke="#2a4a3a" stroke-width="0.4" opacity="0.45"/>
<ellipse cx="448.8" cy="379" rx="11.5" ry="10.8" fill="none" stroke="#2a4a3a" stroke-width="0.4" opacity="0.45"/>
<ellipse cx="448.8" cy="379" rx="14.3" ry="13.5" fill="none" stroke="#2a4a3a" stroke-width="0.4" opacity="0.45"/>
<circle cx="445" cy="386.18" r="0.55" fill="#1a1a1a" opacity="0.8"/>
<circle cx="444.46" cy="382.19" r="0.55" fill="#1a1a1a" opacity="0.8"/>
<circle cx="453.74" cy="381.28" r="0.55" fill="#1a1a1a" opacity="0.8"/>
<circle cx="445.15" cy="382.88" r="0.55" fill="#1a1a1a" opacity="0.8"/>
<circle cx="455.97" cy="374.69" r="0.55" fill="#1a1a1a" opacity="0.8"/>
<circle cx="462.71" cy="382.15" r="0.55" fill="#1a1a1a" opacity="0.8"/>
<circle cx="441.4" cy="382.95" r="0.55" fill="#1a1a1a" opacity="0.8"/>
<circle cx="460.84" cy="386.28" r="0.55" fill="#1a1a1a" opacity="0.8"/>
<circle cx="453.93" cy="380.88" r="0.55" fill="#1a1a1a" opacity="0.8"/>
<circle cx="454" cy="377.32" r="0.55" fill="#1a1a1a" opacity="0.8"/>
<circle cx="436.14" cy="372.71" r="0.55" fill="#1a1a1a" opacity="0.8"/>
<circle cx="456.89" cy="381.46" r="0.55" fill="#1a1a1a" opacity="0.8"/>
<circle cx="456.94" cy="381.32" r="0.55" fill="#1a1a1a" opacity="0.8"/>
<circle cx="446.71" cy="386.78" r="0.55" fill="#1a1a1a" opacity="0.8"/>
<circle cx="437.67" cy="376.26" r="0.55" fill="#1a1a1a" opacity="0.8"/>
<circle cx="440.9" cy="376.03" r="0.55" fill="#1a1a1a" opacity="0.8"/>
<circle cx="455.58" cy="383.84" r="0.55" fill="#1a1a1a" opacity="0.8"/>
<circle cx="444.98" cy="382.73" r="0.55" fill="#1a1a1a" opacity="0.8"/>
<circle cx="440.99" cy="375.84" r="0.55" fill="#1a1a1a" opacity="0.8"/>
<circle cx="434.5" cy="379.31" r="0.55" fill="#1a1a1a" opacity="0.8"/>
<circle cx="451.23" cy="365.7" r="0.55" fill="#1a1a1a" opacity="0.8"/>
<circle cx="436.52" cy="372.09" r="0.55" fill="#1a1a1a" opacity="0.8"/>
<circle cx="443.32" cy="385.13" r="0.55" fill="#1a1a1a" opacity="0.8"/>
<circle cx="451.14" cy="371.29" r="0.55" fill="#1a1a1a" opacity="0.8"/>
<circle cx="458.81" cy="384.34" r="0.55" fill="#1a1a1a" opacity="0.8"/>
<circle cx="437.44" cy="377.29" r="0.55" fill="#1a1a1a" opacity="0.8"/>
<circle cx="447.32" cy="368.23" r="0.55" fill="#1a1a1a" opacity="0.8"/>
<circle cx="444.54" cy="375.72" r="0.55" fill="#1a1a1a" opacity="0.8"/>
<circle cx="459.34" cy="388.12" r="0.55" fill="#1a1a1a" opacity="0.8"/>
<circle cx="454.66" cy="388.34" r="0.55" fill="#1a1a1a" opacity="0.8"/>
<circle cx="457.06" cy="390.02" r="0.55" fill="#1a1a1a" opacity="0.8"/>
<circle cx="443.95" cy="381.45" r="0.55" fill="#1a1a1a" opacity="0.8"/>
<circle cx="449.85" cy="368.19" r="0.55" fill="#1a1a1a" opacity="0.8"/>
<circle cx="442.63" cy="388.16" r="0.55" fill="#1a1a1a" opacity="0.8"/>
<circle cx="436.94" cy="371.46" r="0.55" fill="#1a1a1a" opacity="0.8"/>
<circle cx="453.79" cy="381.17" r="0.55" fill="#1a1a1a" opacity="0.8"/>
<circle cx="462.24" cy="374.4" r="0.55" fill="#1a1a1a" opacity="0.8"/>
<circle cx="447" cy="374.09" r="0.55" fill="#1a1a1a" opacity="0.8"/>
<circle cx="459.47" cy="383.04" r="0.55" fill="#1a1a1a" opacity="0.8"/>
<circle cx="440.19" cy="368.22" r="0.55" fill="#1a1a1a" opacity="0.8"/>
<circle cx="445.72" cy="392.18" r="0.55" fill="#1a1a1a" opacity="0.8"/>
<circle cx="457.52" cy="371.92" r="0.55" fill="#1a1a1a" opacity="0.8"/>
<circle cx="462.96" cy="380.91" r="0.55" fill="#1a1a1a" opacity="0.8"/>
<circle cx="445.42" cy="383.09" r="0.55" fill="#1a1a1a" opacity="0.8"/>
<circle cx="440.31" cy="379.32" r="0.55" fill="#1a1a1a" opacity="0.8"/>
<circle cx="449.77" cy="371.03" r="0.55" fill="#1a1a1a" opacity="0.8"/>
<circle cx="447.75" cy="365.54" r="0.55" fill="#1a1a1a" opacity="0.8"/>
<circle cx="437.73" cy="387.54" r="0.55" fill="#1a1a1a" opacity="0.8"/>
<circle cx="461.31" cy="385.55" r="0.55" fill="#1a1a1a" opacity="0.8"/>
<circle cx="439.43" cy="385.29" r="0.55" fill="#1a1a1a" opacity="0.8"/>
<circle cx="459.43" cy="369.97" r="0.55" fill="#1a1a1a" opacity="0.8"/>
<circle cx="456.35" cy="370.81" r="0.55" fill="#1a1a1a" opacity="0.8"/>
<circle cx="445.69" cy="368.55" r="0.55" fill="#1a1a1a" opacity="0.8"/>
<circle cx="442.93" cy="366.69" r="0.55" fill="#1a1a1a" opacity="0.8"/>
<circle cx="457" cy="376.89" r="0.55" fill="#1a1a1a" opacity="0.8"/>
<circle cx="456.17" cy="383" r="0.55" fill="#1a1a1a" opacity="0.8"/>
<circle cx="449.76" cy="386.97" r="0.55" fill="#1a1a1a" opacity="0.8"/>
<circle cx="457.28" cy="379.61" r="0.55" fill="#1a1a1a" opacity="0.8"/>
<circle cx="448.36" cy="384.18" r="0.55" fill="#1a1a1a" opacity="0.8"/>
<circle cx="455.81" cy="387.61" r="0.55" fill="#1a1a1a" opacity="0.8"/>
<circle cx="439.93" cy="372.09" r="0.55" fill="#1a1a1a" opacity="0.8"/>
<circle cx="454.06" cy="377.49" r="0.55" fill="#1a1a1a" opacity="0.8"/>
<circle cx="435.03" cy="382.63" r="0.55" fill="#1a1a1a" opacity="0.8"/>
<circle cx="437.33" cy="387.07" r="0.55" fill="#1a1a1a" opacity="0.8"/>
<circle cx="460.18" cy="387.18" r="0.55" fill="#1a1a1a" opacity="0.8"/>
<circle cx="453.88" cy="380.98" r="0.55" fill="#1a1a1a" opacity="0.8"/>
<circle cx="463.03" cy="377.7" r="0.55" fill="#1a1a1a" opacity="0.8"/>
<circle cx="454.82" cy="388.25" r="0.55" fill="#1a1a1a" opacity="0.8"/>
<circle cx="444.36" cy="375.93" r="0.55" fill="#1a1a1a" opacity="0.8"/>
<circle cx="457.3" cy="379.01" r="0.55" fill="#1a1a1a" opacity="0.8"/>
<path d="M444.8 375.8C445.4 375 446.3 374.1 447 374C447.7 373.9 448.28 375.13 449 375.2C449.72 375.27 450.73 374.1 451.3 374.4C451.87 374.7 452.35 376.18 452.4 377C452.45 377.82 451.53 378.5 451.6 379.3C451.67 380.1 453.05 381.08 452.8 381.8C452.55 382.52 450.92 383.48 450.1 383.6C449.28 383.72 448.7 382.5 447.9 382.5C447.1 382.5 445.8 383.92 445.3 383.6C444.8 383.28 445.22 381.4 444.9 380.6C444.58 379.8 443.42 379.6 443.4 378.8C443.38 378 444.2 376.6 444.8 375.8Z" fill="#050505" opacity="0.85"/>
<path d="M480.5 353C481.18 352.17 482.13 354.5 482.3 357C482.47 359.5 481.97 364 481.5 368C481.03 372 480.25 376.5 479.5 381C478.75 385.5 477.82 390.5 477 395C476.18 399.5 475.23 405 474.6 408C473.97 411 473.53 413.67 473.2 413C472.87 412.33 472.43 407.83 472.6 404C472.77 400.17 473.57 394.83 474.2 390C474.83 385.17 475.73 379.67 476.4 375C477.07 370.33 477.52 365.67 478.2 362C478.88 358.33 479.82 353.83 480.5 353Z" fill="#c8f03c" />
<path d="M478.2 378C478.65 377.83 479.5 380.67 479.5 383C479.5 385.33 478.7 388.83 478.2 392C477.7 395.17 477.13 398.83 476.5 402C475.87 405.17 474.97 409.17 474.4 411C473.83 412.83 473.28 414.33 473.1 413C472.92 411.67 472.95 406.5 473.3 403C473.65 399.5 474.62 395.17 475.2 392C475.78 388.83 476.3 386.33 476.8 384C477.3 381.67 477.75 378.17 478.2 378Z" fill="#f5e61e" />
<path d="M476.6 393C477.07 392.83 477.63 395.83 477.6 398C477.57 400.17 476.9 403.5 476.4 406C475.9 408.5 475.13 411.5 474.6 413C474.07 414.5 473.42 416.17 473.2 415C472.98 413.83 473.03 408.67 473.3 406C473.57 403.33 474.25 401.17 474.8 399C475.35 396.83 476.13 393.17 476.6 393Z" fill="#ff8c00" />
<path d="M476.1 399C476.47 399.17 476.88 401.33 476.8 403C476.72 404.67 476.03 407.08 475.6 409C475.17 410.92 474.6 413.33 474.2 414.5C473.8 415.67 473.35 417.08 473.2 416C473.05 414.92 473.07 410.33 473.3 408C473.53 405.67 474.13 403.5 474.6 402C475.07 400.5 475.73 398.83 476.1 399Z" fill="#dc0000" />
<path d="M441.9 313C441.82 313.92 441.93 316.37 441.4 318.5C440.87 320.63 439.92 323.83 438.7 325.8C437.48 327.77 435.77 328.33 434.1 330.3C432.43 332.27 430.52 335.02 428.7 337.6C426.88 340.18 424.88 343.22 423.2 345.8C421.52 348.38 420.13 350.4 418.6 353.1C417.07 355.8 415.52 358.68 414 362C412.48 365.32 410.92 368.67 409.5 373C408.08 377.33 406.62 382.62 405.5 388C404.38 393.38 403.13 399.13 402.8 405.3C402.47 411.47 402.45 418.73 403.5 425C404.55 431.27 407.52 438.18 409.1 442.9C410.68 447.62 412.35 451.57 413 453.3" fill="none" stroke="#505050" stroke-width="0.5"/>
<circle cx="441.28" cy="318.95" r="0.6" fill="#505050"/>
<circle cx="434.65" cy="329.71" r="0.6" fill="#505050"/>
<circle cx="426.93" cy="340.16" r="0.6" fill="#505050"/>
<circle cx="419.82" cy="351.04" r="0.6" fill="#505050"/>
<circle cx="413.76" cy="362.53" r="0.6" fill="#505050"/>
<circle cx="408.99" cy="374.61" r="0.6" fill="#505050"/>
<circle cx="405.67" cy="387.18" r="0.6" fill="#505050"/>
<circle cx="403.31" cy="399.96" r="0.6" fill="#505050"/>
<circle cx="402.6" cy="412.93" r="0.6" fill="#505050"/>
<circle cx="403.67" cy="425.87" r="0.6" fill="#505050"/>
<circle cx="407.45" cy="438.29" r="0.6" fill="#505050"/>
<circle cx="411.9" cy="450.5" r="0.6" fill="#505050"/>
<path d="M454.2 313C454.27 313.92 454.6 316.53 454.6 318.5C454.6 320.47 455.03 322.68 454.2 324.8C453.37 326.92 451.43 329.07 449.6 331.2C447.77 333.33 445.17 335.93 443.2 337.6C441.23 339.27 439.62 339.53 437.8 341.2C435.98 342.87 434.13 345.32 432.3 347.6C430.47 349.88 428.68 352.33 426.8 354.9C424.92 357.47 422.88 359.82 421 363C419.12 366.18 417.25 369.83 415.5 374C413.75 378.17 411.77 382.78 410.5 388C409.23 393.22 408.23 399.13 407.9 405.3C407.57 411.47 407.47 418.73 408.5 425C409.53 431.27 412.52 438.18 414.1 442.9C415.68 447.62 417.35 451.57 418 453.3" fill="none" stroke="#505050" stroke-width="0.5"/>
<circle cx="454.61" cy="318.98" r="0.6" fill="#505050"/>
<circle cx="450.12" cy="330.6" r="0.6" fill="#505050"/>
<circle cx="440.58" cy="339.33" r="0.6" fill="#505050"/>
<circle cx="431.56" cy="348.54" r="0.6" fill="#505050"/>
<circle cx="423.75" cy="358.93" r="0.6" fill="#505050"/>
<circle cx="417.22" cy="370.14" r="0.6" fill="#505050"/>
<circle cx="412.26" cy="382.15" r="0.6" fill="#505050"/>
<circle cx="409.1" cy="394.75" r="0.6" fill="#505050"/>
<circle cx="407.79" cy="407.67" r="0.6" fill="#505050"/>
<circle cx="407.97" cy="420.66" r="0.6" fill="#505050"/>
<circle cx="410.69" cy="433.34" r="0.6" fill="#505050"/>
<circle cx="415.04" cy="445.59" r="0.6" fill="#505050"/>
<path d="M466.4 313C466.5 315.02 467.15 321.45 467 325.1C466.85 328.75 466.5 332.17 465.5 334.9C464.5 337.63 462.58 339.83 461 341.5C459.42 343.17 457.9 343.88 456 344.9C454.1 345.92 451.58 346.7 449.6 347.6C447.62 348.5 445.77 349.38 444.1 350.3C442.43 351.22 441.12 351.82 439.6 353.1C438.08 354.38 436.85 355.85 435 358C433.15 360.15 430.58 363 428.5 366C426.42 369 424.33 372 422.5 376C420.67 380 419.32 385.12 417.5 390C415.68 394.88 412.27 399.47 411.6 405.3C410.93 411.13 412.03 418.73 413.5 425C414.97 431.27 418.57 438.18 420.4 442.9C422.23 447.62 423.82 451.57 424.5 453.3" fill="none" stroke="#505050" stroke-width="0.5"/>
<circle cx="466.83" cy="318.98" r="0.6" fill="#505050"/>
<circle cx="466.3" cy="331.94" r="0.6" fill="#505050"/>
<circle cx="459.6" cy="342.76" r="0.6" fill="#505050"/>
<circle cx="447.92" cy="348.38" r="0.6" fill="#505050"/>
<circle cx="437.18" cy="355.5" r="0.6" fill="#505050"/>
<circle cx="428.86" cy="365.49" r="0.6" fill="#505050"/>
<circle cx="422.22" cy="376.63" r="0.6" fill="#505050"/>
<circle cx="417.9" cy="388.89" r="0.6" fill="#505050"/>
<circle cx="412.67" cy="400.78" r="0.6" fill="#505050"/>
<circle cx="411.62" cy="413.63" r="0.6" fill="#505050"/>
<circle cx="413.87" cy="426.42" r="0.6" fill="#505050"/>
<circle cx="418.55" cy="438.54" r="0.6" fill="#505050"/>
<circle cx="423.42" cy="450.59" r="0.6" fill="#505050"/>
<path d="M481 335C480.75 336.33 480.17 340.5 479.5 343C478.83 345.5 478.17 347.83 477 350C475.83 352.17 474.5 354.62 472.5 356C470.5 357.38 467.92 357.92 465 358.3C462.08 358.68 458.33 358.1 455 358.3C451.67 358.5 448 358.88 445 359.5C442 360.12 439.5 360.92 437 362C434.5 363.08 431.92 364.33 430 366C428.08 367.67 427.25 368.83 425.5 372C423.75 375.17 421.18 379.45 419.5 385C417.82 390.55 415.73 398.63 415.4 405.3C415.07 411.97 415.83 418.73 417.5 425C419.17 431.27 423.32 438.18 425.4 442.9C427.48 447.62 429.23 451.57 430 453.3" fill="none" stroke="#505050" stroke-width="0.5"/>
<circle cx="479.97" cy="340.91" r="0.6" fill="#505050"/>
<circle cx="475.29" cy="352.95" r="0.6" fill="#505050"/>
<circle cx="464.09" cy="358.39" r="0.6" fill="#505050"/>
<circle cx="451.1" cy="358.61" r="0.6" fill="#505050"/>
<circle cx="438.45" cy="361.41" r="0.6" fill="#505050"/>
<circle cx="427.7" cy="368.42" r="0.6" fill="#505050"/>
<circle cx="421.45" cy="379.8" r="0.6" fill="#505050"/>
<circle cx="417.54" cy="392.17" r="0.6" fill="#505050"/>
<circle cx="415.42" cy="404.98" r="0.6" fill="#505050"/>
<circle cx="416.05" cy="417.95" r="0.6" fill="#505050"/>
<circle cx="419.43" cy="430.46" r="0.6" fill="#505050"/>
<circle cx="425.07" cy="442.17" r="0.6" fill="#505050"/>
<path d="M469 382C468.92 380.33 469.33 374.92 468.5 372C467.67 369.08 466.08 366.3 464 364.5C461.92 362.7 459 361.7 456 361.2C453 360.7 449.08 360.87 446 361.5C442.92 362.13 439.92 363.25 437.5 365C435.08 366.75 433.33 368.67 431.5 372C429.67 375.33 428.38 379.45 426.5 385C424.62 390.55 420.98 398.63 420.2 405.3C419.42 411.97 420.3 418.73 421.8 425C423.3 431.27 427.08 438.18 429.2 442.9C431.32 447.62 433.62 451.57 434.5 453.3" fill="none" stroke="#505050" stroke-width="0.5"/>
<circle cx="469" cy="376" r="0.6" fill="#505050"/>
<circle cx="463.93" cy="364.44" r="0.6" fill="#505050"/>
<circle cx="451.68" cy="360.91" r="0.6" fill="#505050"/>
<circle cx="439.17" cy="363.94" r="0.6" fill="#505050"/>
<circle cx="430.72" cy="373.53" r="0.6" fill="#505050"/>
<circle cx="426.24" cy="385.73" r="0.6" fill="#505050"/>
<circle cx="421.87" cy="397.97" r="0.6" fill="#505050"/>
<circle cx="419.92" cy="410.76" r="0.6" fill="#505050"/>
<circle cx="421.49" cy="423.64" r="0.6" fill="#505050"/>
<circle cx="425.87" cy="435.85" r="0.6" fill="#505050"/>
<circle cx="431.46" cy="447.58" r="0.6" fill="#505050"/>
<path d="M466.6 313C466.87 315.17 467.93 322.17 468.2 326C468.47 329.83 468.73 333.33 468.2 336C467.67 338.67 466.62 340.58 465 342C463.38 343.42 461 344 458.5 344.5C456 345 451.42 344.92 450 345" fill="none" stroke="#505050" stroke-width="0.5"/>
<circle cx="467.41" cy="318.95" r="0.6" fill="#505050"/>
<circle cx="468.5" cy="331.89" r="0.6" fill="#505050"/>
<circle cx="463.37" cy="343.06" r="0.6" fill="#505050"/>
<circle cx="450.62" cy="344.98" r="0.6" fill="#505050"/>
<path d="M474.4 313C474.92 315.17 476.6 321.95 477.5 326C478.4 330.05 479.25 332.72 479.8 337.3C480.35 341.88 480.77 348.1 480.8 353.5C480.83 358.9 480.48 364.28 480 369.7C479.52 375.12 478.48 381.28 477.9 386C477.32 390.72 476.57 394 476.5 398C476.43 402 477.13 406.57 477.5 410C477.87 413.43 478.87 414.93 478.7 418.6C478.53 422.27 477.62 427.6 476.5 432C475.38 436.4 473.42 441.45 472 445C470.58 448.55 468.67 451.92 468 453.3" fill="none" stroke="#505050" stroke-width="0.5"/>
<circle cx="475.82" cy="318.83" r="0.6" fill="#505050"/>
<circle cx="478.79" cy="331.49" r="0.6" fill="#505050"/>
<circle cx="480.44" cy="344.37" r="0.6" fill="#505050"/>
<circle cx="480.76" cy="357.36" r="0.6" fill="#505050"/>
<circle cx="479.94" cy="370.33" r="0.6" fill="#505050"/>
<circle cx="478.27" cy="383.22" r="0.6" fill="#505050"/>
<circle cx="476.58" cy="396.11" r="0.6" fill="#505050"/>
<circle cx="477.4" cy="409.06" r="0.6" fill="#505050"/>
<circle cx="478.4" cy="421.93" r="0.6" fill="#505050"/>
<circle cx="475.75" cy="434.64" r="0.6" fill="#505050"/>
<circle cx="471.23" cy="446.82" r="0.6" fill="#505050"/>
<path d="M477.5 313C477.88 315.17 479.13 321.95 479.8 326C480.47 330.05 481.13 332.72 481.5 337.3C481.87 341.88 482.05 348.1 482 353.5C481.95 358.9 481.6 364.28 481.2 369.7C480.8 375.12 480 381.28 479.6 386C479.2 390.72 478.82 394 478.8 398C478.78 402 479.22 406.57 479.5 410C479.78 413.43 480.67 414.93 480.5 418.6C480.33 422.27 479.58 427.6 478.5 432C477.42 436.4 475.25 441.45 474 445C472.75 448.55 471.5 451.92 471 453.3" fill="none" stroke="#505050" stroke-width="0.5"/>
<circle cx="478.56" cy="318.9" r="0.6" fill="#505050"/>
<circle cx="480.81" cy="331.71" r="0.6" fill="#505050"/>
<circle cx="481.89" cy="344.65" r="0.6" fill="#505050"/>
<circle cx="481.91" cy="357.65" r="0.6" fill="#505050"/>
<circle cx="481.13" cy="370.63" r="0.6" fill="#505050"/>
<circle cx="479.83" cy="383.56" r="0.6" fill="#505050"/>
<circle cx="478.82" cy="396.52" r="0.6" fill="#505050"/>
<circle cx="479.46" cy="409.5" r="0.6" fill="#505050"/>
<circle cx="480.18" cy="422.4" r="0.6" fill="#505050"/>
<circle cx="477.6" cy="435.12" r="0.6" fill="#505050"/>
<circle cx="473.17" cy="447.34" r="0.6" fill="#505050"/>
<path d="M479.3 313C479.62 315.17 480.65 321.5 481.2 326C481.75 330.5 482.3 335 482.6 340C482.9 345 483.07 350.67 483 356C482.93 361.33 482.53 366.67 482.2 372C481.87 377.33 481.23 383.33 481 388C480.77 392.67 480.47 396.33 480.8 400C481.13 403.67 482.27 406.9 483 410C483.73 413.1 485.03 414.93 485.2 418.6C485.37 422.27 484.7 427.6 484 432C483.3 436.4 481.83 441.45 481 445C480.17 448.55 479.33 451.92 479 453.3" fill="none" stroke="#505050" stroke-width="0.5"/>
<circle cx="480.21" cy="318.93" r="0.6" fill="#505050"/>
<circle cx="481.89" cy="331.82" r="0.6" fill="#505050"/>
<circle cx="482.84" cy="344.78" r="0.6" fill="#505050"/>
<circle cx="482.96" cy="357.78" r="0.6" fill="#505050"/>
<circle cx="482.28" cy="370.76" r="0.6" fill="#505050"/>
<circle cx="481.28" cy="383.72" r="0.6" fill="#505050"/>
<circle cx="480.65" cy="396.71" r="0.6" fill="#505050"/>
<circle cx="482.87" cy="409.47" r="0.6" fill="#505050"/>
<circle cx="485.15" cy="422.14" r="0.6" fill="#505050"/>
<circle cx="483.43" cy="435.01" r="0.6" fill="#505050"/>
<circle cx="480.37" cy="447.65" r="0.6" fill="#505050"/>
<path d="M487.6 313C488 315.17 489.45 320.6 490 326C490.55 331.4 490.75 339.47 490.9 345.4C491.05 351.33 491.05 356.2 490.9 361.6C490.75 367 490.28 372.57 490 377.8C489.72 383.03 489.2 388.47 489.2 393C489.2 397.53 489.45 400.73 490 405C490.55 409.27 492.25 414.1 492.5 418.6C492.75 423.1 492.08 427.6 491.5 432C490.92 436.4 489.67 441.45 489 445C488.33 448.55 487.75 451.92 487.5 453.3" fill="none" stroke="#505050" stroke-width="0.5"/>
<circle cx="488.86" cy="318.87" r="0.6" fill="#505050"/>
<circle cx="490.42" cy="331.76" r="0.6" fill="#505050"/>
<circle cx="490.88" cy="344.75" r="0.6" fill="#505050"/>
<circle cx="490.98" cy="357.75" r="0.6" fill="#505050"/>
<circle cx="490.44" cy="370.73" r="0.6" fill="#505050"/>
<circle cx="489.62" cy="383.71" r="0.6" fill="#505050"/>
<circle cx="489.27" cy="396.7" r="0.6" fill="#505050"/>
<circle cx="490.87" cy="409.58" r="0.6" fill="#505050"/>
<circle cx="492.51" cy="422.42" r="0.6" fill="#505050"/>
<circle cx="490.97" cy="435.32" r="0.6" fill="#505050"/>
<circle cx="488.43" cy="448.07" r="0.6" fill="#505050"/>
<path d="M495.7 313C495.97 315.7 496.75 322.45 497.3 329.2C497.85 335.95 498.72 345.4 499 353.5C499.28 361.6 499.08 371.22 499 377.8C498.92 384.38 498.5 388.47 498.5 393C498.5 397.53 498.75 400.73 499 405C499.25 409.27 500 413.6 500 418.6C500 423.6 499.5 429.22 499 435C498.5 440.78 497.33 450.25 497 453.3" fill="none" stroke="#505050" stroke-width="0.5"/>
<circle cx="496.33" cy="318.97" r="0.6" fill="#505050"/>
<circle cx="497.52" cy="331.91" r="0.6" fill="#505050"/>
<circle cx="498.54" cy="344.87" r="0.6" fill="#505050"/>
<circle cx="499.11" cy="357.86" r="0.6" fill="#505050"/>
<circle cx="499.09" cy="370.86" r="0.6" fill="#505050"/>
<circle cx="498.82" cy="383.85" r="0.6" fill="#505050"/>
<circle cx="498.56" cy="396.85" r="0.6" fill="#505050"/>
<circle cx="499.42" cy="409.82" r="0.6" fill="#505050"/>
<circle cx="499.9" cy="422.79" r="0.6" fill="#505050"/>
<circle cx="498.93" cy="435.75" r="0.6" fill="#505050"/>
<circle cx="497.53" cy="448.68" r="0.6" fill="#505050"/>
<path d="M465 388C465.5 389.67 466.75 395.33 468 398C469.25 400.67 471.17 402.33 472.5 404C473.83 405.67 475.42 407.33 476 408" fill="none" stroke="#505050" stroke-width="0.5"/>
<circle cx="466.55" cy="393.8" r="0.6" fill="#505050"/>
<circle cx="473.15" cy="404.79" r="0.6" fill="#505050"/>
<text transform="translate(432.2,361.8) scale(0.95,1.2)" font-family="Liberation Serif" font-size="8.6" fill="#111" stroke="#111" stroke-width="0.22">VL2</text>
<path d="M442.2 361.4L444 365" stroke="#111" stroke-width="0.9"/>
<text transform="translate(485.2,404.2) scale(0.95,1.2)" font-family="Liberation Serif" font-size="8.6" fill="#111" stroke="#111" stroke-width="0.22">VR3</text>
<path d="M478.7 401.6L484.6 400" stroke="#111" stroke-width="0.9"/>
</g>
<circle cx="447.3" cy="418.7" r="25.8" fill="#fff" stroke="#454545" stroke-width="0.45"/>
<rect x="517.7" y="322.4" width="6.9" height="4.91" fill="rgb(220,0,0)"/>
<rect x="517.7" y="327.01" width="6.9" height="4.91" fill="rgb(255,80,0)"/>
<rect x="517.7" y="331.62" width="6.9" height="4.91" fill="rgb(255,170,0)"/>
<rect x="517.7" y="336.22" width="6.9" height="4.91" fill="rgb(255,235,0)"/>
<rect x="517.7" y="340.83" width="6.9" height="4.91" fill="rgb(175,240,20)"/>
<rect x="517.7" y="345.44" width="6.9" height="4.91" fill="rgb(90,240,20)"/>
<rect x="517.7" y="350.05" width="6.9" height="4.91" fill="rgb(0,240,60)"/>
<rect x="517.7" y="354.65" width="6.9" height="4.91" fill="rgb(0,235,125)"/>
<rect x="517.7" y="359.26" width="6.9" height="4.91" fill="rgb(0,240,190)"/>
<rect x="517.7" y="363.87" width="6.9" height="4.91" fill="rgb(0,240,255)"/>
<rect x="517.7" y="368.48" width="6.9" height="4.91" fill="rgb(0,170,255)"/>
<rect x="517.7" y="373.08" width="6.9" height="4.91" fill="rgb(0,90,240)"/>
<rect x="517.7" y="377.69" width="6.9" height="4.91" fill="rgb(0,0,220)"/>
<path d="M379.1 313.2V453.3H532" fill="none" stroke="#222" stroke-width="1.2"/>
<path d="M395.3 453.3v-3 M421.7 453.3v-3 M448.1 453.3v-3 M474.5 453.3v-3 M500.9 453.3v-3 M527.3 453.3v-3 M379.1 444.8h3 M379.1 418.4h3 M379.1 392h3 M379.1 365.6h3 M379.1 339.2h3 M379.1 313.6h3" stroke="#222" stroke-width="0.9"/>
<path d="M384.74 453.3v-1.6 M390.02 453.3v-1.6 M400.58 453.3v-1.6 M405.86 453.3v-1.6 M411.14 453.3v-1.6 M416.42 453.3v-1.6 M426.98 453.3v-1.6 M432.26 453.3v-1.6 M437.54 453.3v-1.6 M442.82 453.3v-1.6 M453.38 453.3v-1.6 M458.66 453.3v-1.6 M463.94 453.3v-1.6 M469.22 453.3v-1.6 M479.78 453.3v-1.6 M485.06 453.3v-1.6 M490.34 453.3v-1.6 M495.62 453.3v-1.6 M506.18 453.3v-1.6 M511.46 453.3v-1.6 M516.74 453.3v-1.6 M522.02 453.3v-1.6 M379.1 450.08h1.6 M379.1 439.52h1.6 M379.1 434.24h1.6 M379.1 428.96h1.6 M379.1 423.68h1.6 M379.1 413.12h1.6 M379.1 407.84h1.6 M379.1 402.56h1.6 M379.1 397.28h1.6 M379.1 386.72h1.6 M379.1 381.44h1.6 M379.1 376.16h1.6 M379.1 370.88h1.6 M379.1 360.32h1.6 M379.1 355.04h1.6 M379.1 349.76h1.6 M379.1 344.48h1.6 M379.1 333.92h1.6 M379.1 328.64h1.6 M379.1 323.36h1.6 M379.1 318.08h1.6" stroke="#222" stroke-width="0.7"/>
<g font-family="Liberation Serif" font-size="8.6" fill="#111" stroke="#111" stroke-width="0.15">
<text x="393.5" y="462" text-anchor="middle">-1</text>
<text x="419.9" y="462" text-anchor="middle">-0.5</text>
<text x="447.6" y="462" text-anchor="middle">0</text>
<text x="474" y="462" text-anchor="middle">0.5</text>
<text x="500.4" y="462" text-anchor="middle">1</text>
<text x="526.8" y="462" text-anchor="middle">1.5</text>
<text x="376.1" y="447.8" text-anchor="end">-0.5</text>
<text x="376.1" y="421.4" text-anchor="end">0</text>
<text x="376.1" y="395" text-anchor="end">0.5</text>
<text x="376.1" y="368.6" text-anchor="end">1</text>
<text x="376.1" y="342.2" text-anchor="end">1.5</text>
<text x="376.1" y="315.8" text-anchor="end">2</text>
<text x="450.1" y="470" font-style="italic">y/D</text>
<text transform="translate(362.6,394) rotate(-90)" font-style="italic">z/D</text>
<text x="384.6" y="322.7" font-style="italic">x/D</text>
<text x="397.6" y="322.7">=9</text>
<text x="528.7" y="320.4" text-anchor="end"><tspan font-style="italic">&#969;</tspan><tspan dx="1.6">*</tspan><tspan dx="0.6">:11.4</tspan></text>
<text x="528.7" y="391" text-anchor="end">-11.4</text>
</g>
<text transform="translate(258.4,490.3) scale(1.0,1.0)" font-family="Liberation Serif" font-size="16" fill="#111" stroke="#111" stroke-width="0.22">(b)</text>
</svg>
</div>
</body></html>
